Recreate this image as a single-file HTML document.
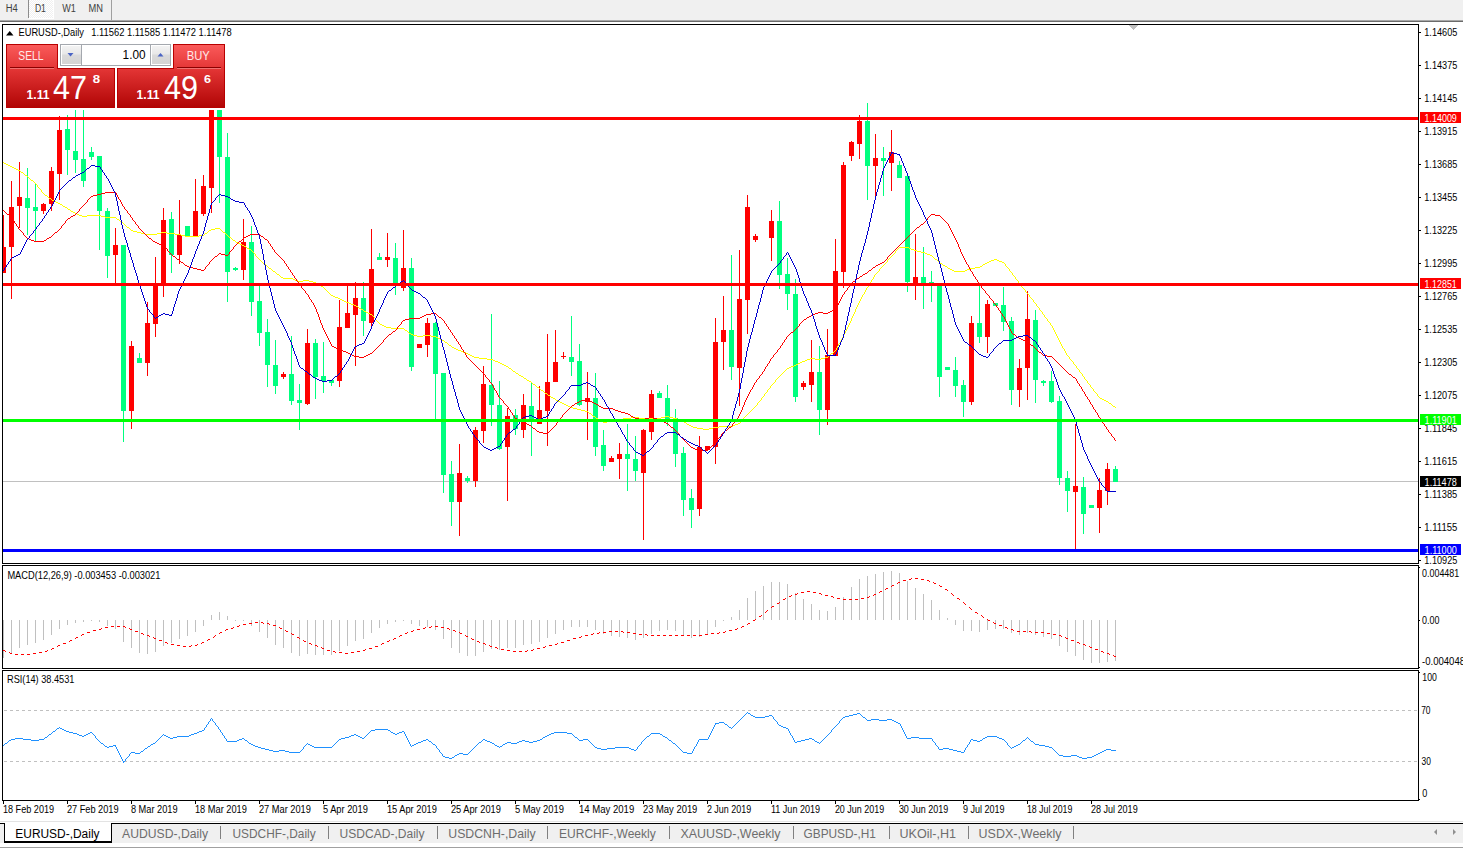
<!DOCTYPE html><html><head><meta charset="utf-8"><style>html,body{margin:0;padding:0;background:#fff;width:1463px;height:849px;overflow:hidden}svg{display:block}text{font-family:"Liberation Sans",sans-serif}</style></head><body><svg width="1463" height="849" viewBox="0 0 1463 849" font-family="Liberation Sans, sans-serif">
<defs>
<linearGradient id="rg" x1="0" y1="44" x2="0" y2="108" gradientUnits="userSpaceOnUse"><stop offset="0" stop-color="#fb5c5c"/><stop offset="0.38" stop-color="#e43636"/><stop offset="1" stop-color="#b00404"/></linearGradient>
<linearGradient id="bg" x1="0" y1="45" x2="0" y2="65" gradientUnits="userSpaceOnUse"><stop offset="0" stop-color="#f4f4f4"/><stop offset="0.45" stop-color="#e8e8e8"/><stop offset="0.5" stop-color="#dadada"/><stop offset="1" stop-color="#d4d4d4"/></linearGradient>
<clipPath id="cm"><rect x="3" y="25" width="1415" height="538"/></clipPath>
<clipPath id="cmacd"><rect x="3" y="566" width="1415" height="101"/></clipPath>
<clipPath id="crsi"><rect x="3" y="671" width="1415" height="129"/></clipPath>
<pattern id="chk" x="0" y="0" width="2" height="2" patternUnits="userSpaceOnUse"><rect width="2" height="2" fill="#f0f0f0"/><rect width="1" height="1" fill="#fff"/><rect x="1" y="1" width="1" height="1" fill="#fff"/></pattern>
</defs>
<rect x="0" y="0" width="1463" height="849" fill="#fff"/>
<g shape-rendering="crispEdges">
<rect x="0" y="0" width="1463" height="20" fill="#f0f0f0"/>
<rect x="29" y="0" width="25" height="19" fill="#fff"/>
<rect x="29" y="0" width="24" height="18" fill="url(#chk)"/>
<rect x="28" y="0" width="1" height="18" fill="#8c8c8c"/>
<rect x="111" y="0" width="1" height="20" fill="#a0a0a0"/>
<rect x="0" y="20" width="1463" height="1" fill="#a8a8a8"/>
<rect x="0" y="21" width="1463" height="1" fill="#6a6a6a"/>
</g>
<text x="5.70" y="12" font-size="10" fill="#404040" textLength="12.03" lengthAdjust="spacingAndGlyphs">H4</text>
<text x="34.90" y="12" font-size="10" fill="#404040" textLength="11.03" lengthAdjust="spacingAndGlyphs">D1</text>
<text x="62.30" y="12" font-size="10" fill="#404040" textLength="13.60" lengthAdjust="spacingAndGlyphs">W1</text>
<text x="88.60" y="12" font-size="10" fill="#404040" textLength="14.45" lengthAdjust="spacingAndGlyphs">MN</text>
<g shape-rendering="crispEdges" fill="none" stroke="#000" stroke-width="1">
<rect x="2.5" y="24.5" width="1416" height="539"/>
<rect x="2.5" y="565.5" width="1416" height="103"/>
<rect x="2.5" y="670.5" width="1416" height="130"/>
</g>
<g clip-path="url(#cm)" shape-rendering="crispEdges">
<rect x="3" y="481" width="1415" height="1" fill="#c0c0c0"/>
<rect x="3" y="215" width="1" height="58" fill="#ff0000"/>
<rect x="1" y="247" width="5" height="26" fill="#ff0000"/>
<rect x="11" y="181" width="1" height="118" fill="#ff0000"/>
<rect x="9" y="207" width="5" height="40" fill="#ff0000"/>
<rect x="19" y="162" width="1" height="66" fill="#ff0000"/>
<rect x="17" y="197" width="5" height="9" fill="#ff0000"/>
<rect x="27" y="168" width="1" height="67" fill="#00ff7f"/>
<rect x="25" y="198" width="5" height="10" fill="#00ff7f"/>
<rect x="35" y="184" width="1" height="57" fill="#00ff7f"/>
<rect x="33" y="207" width="5" height="4" fill="#00ff7f"/>
<rect x="43" y="203" width="1" height="11" fill="#ff0000"/>
<rect x="41" y="204" width="5" height="7" fill="#ff0000"/>
<rect x="51" y="167" width="1" height="44" fill="#ff0000"/>
<rect x="49" y="171" width="5" height="33" fill="#ff0000"/>
<rect x="59" y="116" width="1" height="84" fill="#ff0000"/>
<rect x="57" y="130" width="5" height="44" fill="#ff0000"/>
<rect x="67" y="115" width="1" height="60" fill="#00ff7f"/>
<rect x="65" y="129" width="5" height="21" fill="#00ff7f"/>
<rect x="75" y="100" width="1" height="73" fill="#00ff7f"/>
<rect x="73" y="151" width="5" height="9" fill="#00ff7f"/>
<rect x="83" y="100" width="1" height="87" fill="#00ff7f"/>
<rect x="81" y="159" width="5" height="22" fill="#00ff7f"/>
<rect x="91" y="147" width="1" height="13" fill="#00ff7f"/>
<rect x="89" y="152" width="5" height="5" fill="#00ff7f"/>
<rect x="99" y="156" width="1" height="94" fill="#00ff7f"/>
<rect x="97" y="156" width="5" height="55" fill="#00ff7f"/>
<rect x="107" y="208" width="1" height="70" fill="#00ff7f"/>
<rect x="105" y="211" width="5" height="45" fill="#00ff7f"/>
<rect x="115" y="228" width="1" height="56" fill="#ff0000"/>
<rect x="113" y="245" width="5" height="10" fill="#ff0000"/>
<rect x="123" y="245" width="1" height="197" fill="#00ff7f"/>
<rect x="121" y="245" width="5" height="166" fill="#00ff7f"/>
<rect x="131" y="341" width="1" height="88" fill="#ff0000"/>
<rect x="129" y="346" width="5" height="65" fill="#ff0000"/>
<rect x="139" y="353" width="1" height="10" fill="#00ff7f"/>
<rect x="137" y="358" width="5" height="5" fill="#00ff7f"/>
<rect x="147" y="302" width="1" height="74" fill="#ff0000"/>
<rect x="145" y="323" width="5" height="40" fill="#ff0000"/>
<rect x="155" y="257" width="1" height="80" fill="#ff0000"/>
<rect x="153" y="285" width="5" height="39" fill="#ff0000"/>
<rect x="163" y="208" width="1" height="89" fill="#ff0000"/>
<rect x="161" y="220" width="5" height="64" fill="#ff0000"/>
<rect x="171" y="212" width="1" height="61" fill="#00ff7f"/>
<rect x="169" y="219" width="5" height="36" fill="#00ff7f"/>
<rect x="179" y="200" width="1" height="64" fill="#ff0000"/>
<rect x="177" y="235" width="5" height="20" fill="#ff0000"/>
<rect x="187" y="226" width="1" height="11" fill="#00ff7f"/>
<rect x="185" y="226" width="5" height="11" fill="#00ff7f"/>
<rect x="195" y="179" width="1" height="57" fill="#ff0000"/>
<rect x="193" y="211" width="5" height="25" fill="#ff0000"/>
<rect x="203" y="175" width="1" height="41" fill="#ff0000"/>
<rect x="201" y="186" width="5" height="28" fill="#ff0000"/>
<rect x="211" y="70" width="1" height="143" fill="#ff0000"/>
<rect x="209" y="75" width="5" height="113" fill="#ff0000"/>
<rect x="219" y="70" width="1" height="133" fill="#00ff7f"/>
<rect x="217" y="75" width="5" height="82" fill="#00ff7f"/>
<rect x="227" y="133" width="1" height="169" fill="#00ff7f"/>
<rect x="225" y="157" width="5" height="115" fill="#00ff7f"/>
<rect x="235" y="267" width="1" height="4" fill="#00ff7f"/>
<rect x="233" y="268" width="5" height="2" fill="#00ff7f"/>
<rect x="243" y="219" width="1" height="61" fill="#ff0000"/>
<rect x="241" y="242" width="5" height="28" fill="#ff0000"/>
<rect x="251" y="226" width="1" height="90" fill="#00ff7f"/>
<rect x="249" y="242" width="5" height="60" fill="#00ff7f"/>
<rect x="259" y="286" width="1" height="60" fill="#00ff7f"/>
<rect x="257" y="301" width="5" height="32" fill="#00ff7f"/>
<rect x="267" y="319" width="1" height="68" fill="#00ff7f"/>
<rect x="265" y="332" width="5" height="33" fill="#00ff7f"/>
<rect x="275" y="340" width="1" height="54" fill="#00ff7f"/>
<rect x="273" y="365" width="5" height="21" fill="#00ff7f"/>
<rect x="283" y="372" width="1" height="7" fill="#ff0000"/>
<rect x="281" y="374" width="5" height="3" fill="#ff0000"/>
<rect x="291" y="336" width="1" height="69" fill="#00ff7f"/>
<rect x="289" y="374" width="5" height="27" fill="#00ff7f"/>
<rect x="299" y="384" width="1" height="46" fill="#00ff7f"/>
<rect x="297" y="400" width="5" height="3" fill="#00ff7f"/>
<rect x="307" y="329" width="1" height="76" fill="#ff0000"/>
<rect x="305" y="343" width="5" height="61" fill="#ff0000"/>
<rect x="315" y="339" width="1" height="60" fill="#00ff7f"/>
<rect x="313" y="343" width="5" height="34" fill="#00ff7f"/>
<rect x="323" y="342" width="1" height="51" fill="#00ff7f"/>
<rect x="321" y="376" width="5" height="5" fill="#00ff7f"/>
<rect x="331" y="380" width="1" height="6" fill="#00ff7f"/>
<rect x="329" y="380" width="5" height="3" fill="#00ff7f"/>
<rect x="339" y="300" width="1" height="87" fill="#ff0000"/>
<rect x="337" y="327" width="5" height="54" fill="#ff0000"/>
<rect x="347" y="286" width="1" height="42" fill="#ff0000"/>
<rect x="345" y="313" width="5" height="15" fill="#ff0000"/>
<rect x="355" y="282" width="1" height="84" fill="#ff0000"/>
<rect x="353" y="298" width="5" height="17" fill="#ff0000"/>
<rect x="363" y="282" width="1" height="54" fill="#00ff7f"/>
<rect x="361" y="298" width="5" height="23" fill="#00ff7f"/>
<rect x="371" y="229" width="1" height="97" fill="#ff0000"/>
<rect x="369" y="269" width="5" height="54" fill="#ff0000"/>
<rect x="379" y="253" width="1" height="7" fill="#00ff7f"/>
<rect x="377" y="257" width="5" height="3" fill="#00ff7f"/>
<rect x="387" y="233" width="1" height="34" fill="#ff0000"/>
<rect x="385" y="257" width="5" height="3" fill="#ff0000"/>
<rect x="395" y="243" width="1" height="52" fill="#00ff7f"/>
<rect x="393" y="258" width="5" height="26" fill="#00ff7f"/>
<rect x="403" y="230" width="1" height="61" fill="#ff0000"/>
<rect x="401" y="268" width="5" height="20" fill="#ff0000"/>
<rect x="411" y="258" width="1" height="113" fill="#00ff7f"/>
<rect x="409" y="268" width="5" height="99" fill="#00ff7f"/>
<rect x="419" y="344" width="1" height="4" fill="#ff0000"/>
<rect x="417" y="344" width="5" height="4" fill="#ff0000"/>
<rect x="427" y="318" width="1" height="39" fill="#ff0000"/>
<rect x="425" y="323" width="5" height="22" fill="#ff0000"/>
<rect x="435" y="322" width="1" height="97" fill="#00ff7f"/>
<rect x="433" y="323" width="5" height="51" fill="#00ff7f"/>
<rect x="443" y="373" width="1" height="120" fill="#00ff7f"/>
<rect x="441" y="373" width="5" height="102" fill="#00ff7f"/>
<rect x="451" y="461" width="1" height="65" fill="#00ff7f"/>
<rect x="449" y="474" width="5" height="28" fill="#00ff7f"/>
<rect x="459" y="444" width="1" height="92" fill="#ff0000"/>
<rect x="457" y="473" width="5" height="29" fill="#ff0000"/>
<rect x="467" y="476" width="1" height="7" fill="#00ff7f"/>
<rect x="465" y="478" width="5" height="3" fill="#00ff7f"/>
<rect x="475" y="427" width="1" height="60" fill="#ff0000"/>
<rect x="473" y="430" width="5" height="51" fill="#ff0000"/>
<rect x="483" y="366" width="1" height="77" fill="#ff0000"/>
<rect x="481" y="384" width="5" height="47" fill="#ff0000"/>
<rect x="491" y="314" width="1" height="112" fill="#00ff7f"/>
<rect x="489" y="385" width="5" height="20" fill="#00ff7f"/>
<rect x="499" y="381" width="1" height="69" fill="#00ff7f"/>
<rect x="497" y="405" width="5" height="44" fill="#00ff7f"/>
<rect x="507" y="408" width="1" height="93" fill="#ff0000"/>
<rect x="505" y="416" width="5" height="31" fill="#ff0000"/>
<rect x="515" y="409" width="1" height="26" fill="#00ff7f"/>
<rect x="513" y="415" width="5" height="14" fill="#00ff7f"/>
<rect x="523" y="394" width="1" height="44" fill="#ff0000"/>
<rect x="521" y="405" width="5" height="25" fill="#ff0000"/>
<rect x="531" y="383" width="1" height="73" fill="#00ff7f"/>
<rect x="529" y="406" width="5" height="14" fill="#00ff7f"/>
<rect x="539" y="386" width="1" height="38" fill="#ff0000"/>
<rect x="537" y="410" width="5" height="14" fill="#ff0000"/>
<rect x="547" y="334" width="1" height="112" fill="#ff0000"/>
<rect x="545" y="382" width="5" height="29" fill="#ff0000"/>
<rect x="555" y="330" width="1" height="52" fill="#ff0000"/>
<rect x="553" y="362" width="5" height="20" fill="#ff0000"/>
<rect x="563" y="352" width="1" height="7" fill="#ff0000"/>
<rect x="561" y="356" width="5" height="1" fill="#ff0000"/>
<rect x="571" y="316" width="1" height="60" fill="#00ff7f"/>
<rect x="569" y="357" width="5" height="5" fill="#00ff7f"/>
<rect x="579" y="344" width="1" height="62" fill="#00ff7f"/>
<rect x="577" y="361" width="5" height="44" fill="#00ff7f"/>
<rect x="587" y="372" width="1" height="68" fill="#ff0000"/>
<rect x="585" y="398" width="5" height="4" fill="#ff0000"/>
<rect x="595" y="373" width="1" height="83" fill="#00ff7f"/>
<rect x="593" y="398" width="5" height="49" fill="#00ff7f"/>
<rect x="603" y="430" width="1" height="41" fill="#00ff7f"/>
<rect x="601" y="445" width="5" height="21" fill="#00ff7f"/>
<rect x="611" y="456" width="1" height="6" fill="#ff0000"/>
<rect x="609" y="458" width="5" height="4" fill="#ff0000"/>
<rect x="619" y="443" width="1" height="36" fill="#ff0000"/>
<rect x="617" y="454" width="5" height="5" fill="#ff0000"/>
<rect x="627" y="424" width="1" height="67" fill="#00ff7f"/>
<rect x="625" y="454" width="5" height="5" fill="#00ff7f"/>
<rect x="635" y="436" width="1" height="45" fill="#00ff7f"/>
<rect x="633" y="459" width="5" height="12" fill="#00ff7f"/>
<rect x="643" y="429" width="1" height="111" fill="#ff0000"/>
<rect x="641" y="430" width="5" height="43" fill="#ff0000"/>
<rect x="651" y="390" width="1" height="50" fill="#ff0000"/>
<rect x="649" y="394" width="5" height="38" fill="#ff0000"/>
<rect x="659" y="391" width="1" height="7" fill="#00ff7f"/>
<rect x="657" y="393" width="5" height="5" fill="#00ff7f"/>
<rect x="667" y="385" width="1" height="41" fill="#00ff7f"/>
<rect x="665" y="398" width="5" height="21" fill="#00ff7f"/>
<rect x="675" y="409" width="1" height="58" fill="#00ff7f"/>
<rect x="673" y="418" width="5" height="36" fill="#00ff7f"/>
<rect x="683" y="447" width="1" height="69" fill="#00ff7f"/>
<rect x="681" y="453" width="5" height="47" fill="#00ff7f"/>
<rect x="691" y="489" width="1" height="39" fill="#00ff7f"/>
<rect x="689" y="498" width="5" height="12" fill="#00ff7f"/>
<rect x="699" y="436" width="1" height="80" fill="#ff0000"/>
<rect x="697" y="447" width="5" height="62" fill="#ff0000"/>
<rect x="707" y="446" width="1" height="4" fill="#ff0000"/>
<rect x="705" y="446" width="5" height="4" fill="#ff0000"/>
<rect x="715" y="318" width="1" height="146" fill="#ff0000"/>
<rect x="713" y="342" width="5" height="105" fill="#ff0000"/>
<rect x="723" y="296" width="1" height="74" fill="#ff0000"/>
<rect x="721" y="330" width="5" height="12" fill="#ff0000"/>
<rect x="731" y="255" width="1" height="125" fill="#00ff7f"/>
<rect x="729" y="330" width="5" height="37" fill="#00ff7f"/>
<rect x="739" y="250" width="1" height="156" fill="#ff0000"/>
<rect x="737" y="299" width="5" height="69" fill="#ff0000"/>
<rect x="747" y="195" width="1" height="139" fill="#ff0000"/>
<rect x="745" y="207" width="5" height="93" fill="#ff0000"/>
<rect x="755" y="234" width="1" height="8" fill="#ff0000"/>
<rect x="753" y="236" width="5" height="4" fill="#ff0000"/>
<rect x="771" y="210" width="1" height="51" fill="#ff0000"/>
<rect x="769" y="221" width="5" height="17" fill="#ff0000"/>
<rect x="779" y="201" width="1" height="88" fill="#00ff7f"/>
<rect x="777" y="221" width="5" height="54" fill="#00ff7f"/>
<rect x="787" y="258" width="1" height="52" fill="#00ff7f"/>
<rect x="785" y="274" width="5" height="20" fill="#00ff7f"/>
<rect x="795" y="279" width="1" height="123" fill="#00ff7f"/>
<rect x="793" y="294" width="5" height="103" fill="#00ff7f"/>
<rect x="803" y="381" width="1" height="9" fill="#ff0000"/>
<rect x="801" y="383" width="5" height="4" fill="#ff0000"/>
<rect x="811" y="340" width="1" height="62" fill="#ff0000"/>
<rect x="809" y="372" width="5" height="13" fill="#ff0000"/>
<rect x="819" y="346" width="1" height="89" fill="#00ff7f"/>
<rect x="817" y="372" width="5" height="38" fill="#00ff7f"/>
<rect x="827" y="329" width="1" height="96" fill="#ff0000"/>
<rect x="825" y="355" width="5" height="55" fill="#ff0000"/>
<rect x="835" y="239" width="1" height="117" fill="#ff0000"/>
<rect x="833" y="271" width="5" height="85" fill="#ff0000"/>
<rect x="843" y="162" width="1" height="126" fill="#ff0000"/>
<rect x="841" y="165" width="5" height="107" fill="#ff0000"/>
<rect x="851" y="141" width="1" height="20" fill="#ff0000"/>
<rect x="849" y="142" width="5" height="14" fill="#ff0000"/>
<rect x="859" y="115" width="1" height="44" fill="#ff0000"/>
<rect x="857" y="121" width="5" height="23" fill="#ff0000"/>
<rect x="867" y="103" width="1" height="97" fill="#00ff7f"/>
<rect x="865" y="121" width="5" height="45" fill="#00ff7f"/>
<rect x="875" y="134" width="1" height="62" fill="#ff0000"/>
<rect x="873" y="158" width="5" height="8" fill="#ff0000"/>
<rect x="883" y="147" width="1" height="49" fill="#00ff7f"/>
<rect x="881" y="158" width="5" height="3" fill="#00ff7f"/>
<rect x="891" y="130" width="1" height="61" fill="#ff0000"/>
<rect x="889" y="152" width="5" height="11" fill="#ff0000"/>
<rect x="899" y="161" width="1" height="17" fill="#00ff7f"/>
<rect x="897" y="165" width="5" height="13" fill="#00ff7f"/>
<rect x="907" y="175" width="1" height="117" fill="#00ff7f"/>
<rect x="905" y="176" width="5" height="106" fill="#00ff7f"/>
<rect x="915" y="234" width="1" height="66" fill="#ff0000"/>
<rect x="913" y="277" width="5" height="7" fill="#ff0000"/>
<rect x="923" y="247" width="1" height="62" fill="#00ff7f"/>
<rect x="921" y="277" width="5" height="7" fill="#00ff7f"/>
<rect x="931" y="271" width="1" height="31" fill="#00ff7f"/>
<rect x="929" y="282" width="5" height="2" fill="#00ff7f"/>
<rect x="939" y="284" width="1" height="113" fill="#00ff7f"/>
<rect x="937" y="284" width="5" height="93" fill="#00ff7f"/>
<rect x="947" y="367" width="1" height="3" fill="#00ff7f"/>
<rect x="945" y="367" width="5" height="3" fill="#00ff7f"/>
<rect x="955" y="357" width="1" height="40" fill="#00ff7f"/>
<rect x="953" y="370" width="5" height="16" fill="#00ff7f"/>
<rect x="963" y="380" width="1" height="37" fill="#00ff7f"/>
<rect x="961" y="385" width="5" height="17" fill="#00ff7f"/>
<rect x="971" y="316" width="1" height="89" fill="#ff0000"/>
<rect x="969" y="323" width="5" height="79" fill="#ff0000"/>
<rect x="979" y="285" width="1" height="58" fill="#00ff7f"/>
<rect x="977" y="323" width="5" height="14" fill="#00ff7f"/>
<rect x="987" y="300" width="1" height="53" fill="#ff0000"/>
<rect x="985" y="304" width="5" height="33" fill="#ff0000"/>
<rect x="995" y="303" width="1" height="3" fill="#00ff7f"/>
<rect x="993" y="303" width="5" height="3" fill="#00ff7f"/>
<rect x="1003" y="287" width="1" height="44" fill="#00ff7f"/>
<rect x="1001" y="305" width="5" height="17" fill="#00ff7f"/>
<rect x="1011" y="317" width="1" height="88" fill="#00ff7f"/>
<rect x="1009" y="321" width="5" height="69" fill="#00ff7f"/>
<rect x="1019" y="359" width="1" height="48" fill="#ff0000"/>
<rect x="1017" y="368" width="5" height="22" fill="#ff0000"/>
<rect x="1027" y="291" width="1" height="109" fill="#ff0000"/>
<rect x="1025" y="319" width="5" height="49" fill="#ff0000"/>
<rect x="1035" y="310" width="1" height="93" fill="#00ff7f"/>
<rect x="1033" y="320" width="5" height="60" fill="#00ff7f"/>
<rect x="1043" y="380" width="1" height="6" fill="#00ff7f"/>
<rect x="1041" y="381" width="5" height="2" fill="#00ff7f"/>
<rect x="1051" y="371" width="1" height="32" fill="#00ff7f"/>
<rect x="1049" y="381" width="5" height="21" fill="#00ff7f"/>
<rect x="1059" y="396" width="1" height="89" fill="#00ff7f"/>
<rect x="1057" y="401" width="5" height="77" fill="#00ff7f"/>
<rect x="1067" y="471" width="1" height="41" fill="#00ff7f"/>
<rect x="1065" y="478" width="5" height="13" fill="#00ff7f"/>
<rect x="1075" y="424" width="1" height="125" fill="#ff0000"/>
<rect x="1073" y="486" width="5" height="6" fill="#ff0000"/>
<rect x="1083" y="477" width="1" height="57" fill="#00ff7f"/>
<rect x="1081" y="487" width="5" height="27" fill="#00ff7f"/>
<rect x="1091" y="505" width="1" height="3" fill="#00ff7f"/>
<rect x="1089" y="505" width="5" height="3" fill="#00ff7f"/>
<rect x="1099" y="478" width="1" height="55" fill="#ff0000"/>
<rect x="1097" y="490" width="5" height="18" fill="#ff0000"/>
<rect x="1107" y="463" width="1" height="42" fill="#ff0000"/>
<rect x="1105" y="469" width="5" height="22" fill="#ff0000"/>
<rect x="1115" y="466" width="1" height="16" fill="#00ff7f"/>
<rect x="1113" y="469" width="5" height="13" fill="#00ff7f"/>
</g>
<path d="M3,162h1v1h-1zM4,163h2v1h-2zM6,164h2v1h-2zM8,165h2v1h-2zM10,166h2v1h-2zM12,167h2v1h-2zM14,168h2v1h-2zM16,169h2v1h-2zM18,170h2v1h-2zM20,171h1v1h-1zM21,172h2v1h-2zM23,173h1v1h-1zM24,174h1v1h-1zM25,175h2v1h-2zM27,176h1v1h-1zM28,177h1v1h-1zM29,178h1v1h-1zM30,179h1v1h-1zM31,180h2v1h-2zM33,181h1v1h-1zM34,182h1v1h-1zM35,183h1v1h-1zM36,184h1v1h-1zM37,185h1v1h-1zM37,186h1v1h-1zM38,187h1v1h-1zM39,188h1v1h-1zM40,189h1v1h-1zM41,190h1v1h-1zM41,191h1v1h-1zM42,192h1v1h-1zM43,193h1v1h-1zM44,194h1v1h-1zM45,195h2v1h-2zM47,196h1v1h-1zM48,197h1v1h-1zM49,198h2v1h-2zM51,199h1v1h-1zM52,200h2v1h-2zM54,201h2v1h-2zM56,202h2v1h-2zM58,203h2v1h-2zM60,204h2v1h-2zM62,205h1v1h-1zM63,206h2v1h-2zM65,207h2v1h-2zM67,208h1v1h-1zM68,209h2v1h-2zM70,210h1v1h-1zM71,211h2v1h-2zM73,212h2v1h-2zM75,213h2v1h-2zM77,214h2v1h-2zM79,215h3v1h-3zM87,215h14v1h-14zM82,216h5v1h-5zM101,216h4v1h-4zM105,217h11v1h-11zM116,218h1v1h-1zM117,219h2v1h-2zM119,220h1v1h-1zM120,221h1v1h-1zM121,222h2v1h-2zM123,223h1v1h-1zM124,224h1v1h-1zM125,225h1v1h-1zM126,226h1v1h-1zM127,227h2v1h-2zM129,228h1v1h-1zM215,228h5v1h-5zM130,229h1v1h-1zM211,229h4v1h-4zM220,229h1v1h-1zM131,230h2v1h-2zM209,230h2v1h-2zM221,230h1v1h-1zM133,231h4v1h-4zM208,231h1v1h-1zM222,231h1v1h-1zM137,232h4v1h-4zM161,232h6v1h-6zM207,232h1v1h-1zM223,232h2v1h-2zM141,233h4v1h-4zM157,233h4v1h-4zM167,233h8v1h-8zM205,233h2v1h-2zM225,233h1v1h-1zM145,234h12v1h-12zM175,234h6v1h-6zM204,234h1v1h-1zM226,234h1v1h-1zM181,235h4v1h-4zM199,235h5v1h-5zM227,235h1v1h-1zM185,236h14v1h-14zM228,236h1v1h-1zM229,237h2v1h-2zM231,238h1v1h-1zM232,239h1v1h-1zM233,240h2v1h-2zM235,241h1v1h-1zM236,242h2v1h-2zM238,243h2v1h-2zM240,244h2v1h-2zM242,245h2v1h-2zM244,246h2v1h-2zM246,247h1v1h-1zM899,247h10v1h-10zM247,248h2v1h-2zM898,248h1v1h-1zM909,248h2v1h-2zM249,249h2v1h-2zM897,249h1v1h-1zM911,249h3v1h-3zM251,250h1v1h-1zM896,250h1v1h-1zM914,250h3v1h-3zM252,251h1v1h-1zM895,251h1v1h-1zM917,251h4v1h-4zM253,252h1v1h-1zM895,252h1v1h-1zM921,252h4v1h-4zM254,253h1v1h-1zM894,253h1v1h-1zM925,253h2v1h-2zM255,254h1v1h-1zM893,254h1v1h-1zM927,254h3v1h-3zM255,255h1v1h-1zM892,255h1v1h-1zM930,255h2v1h-2zM256,256h1v1h-1zM891,256h1v1h-1zM932,256h1v1h-1zM257,257h1v1h-1zM890,257h1v1h-1zM933,257h1v1h-1zM258,258h1v1h-1zM889,258h1v1h-1zM934,258h1v1h-1zM259,259h1v1h-1zM888,259h1v1h-1zM935,259h2v1h-2zM994,259h3v1h-3zM260,260h1v1h-1zM887,260h1v1h-1zM937,260h1v1h-1zM991,260h3v1h-3zM997,260h2v1h-2zM261,261h1v1h-1zM887,261h1v1h-1zM938,261h1v1h-1zM989,261h2v1h-2zM999,261h3v1h-3zM262,262h1v1h-1zM886,262h1v1h-1zM939,262h1v1h-1zM987,262h2v1h-2zM1002,262h2v1h-2zM263,263h2v1h-2zM885,263h1v1h-1zM940,263h2v1h-2zM985,263h2v1h-2zM1004,263h1v1h-1zM265,264h1v1h-1zM884,264h1v1h-1zM942,264h1v1h-1zM983,264h2v1h-2zM1005,264h1v1h-1zM266,265h1v1h-1zM883,265h1v1h-1zM943,265h2v1h-2zM982,265h1v1h-1zM1005,265h1v1h-1zM267,266h1v1h-1zM882,266h1v1h-1zM945,266h2v1h-2zM980,266h2v1h-2zM1006,266h1v1h-1zM268,267h1v1h-1zM881,267h1v1h-1zM947,267h1v1h-1zM975,267h5v1h-5zM1007,267h1v1h-1zM269,268h2v1h-2zM880,268h1v1h-1zM948,268h2v1h-2zM970,268h5v1h-5zM1008,268h1v1h-1zM271,269h1v1h-1zM879,269h1v1h-1zM950,269h2v1h-2zM967,269h3v1h-3zM1009,269h1v1h-1zM272,270h1v1h-1zM879,270h1v1h-1zM952,270h2v1h-2zM965,270h2v1h-2zM1009,270h1v1h-1zM273,271h2v1h-2zM878,271h1v1h-1zM954,271h11v1h-11zM1010,271h1v1h-1zM275,272h1v1h-1zM877,272h1v1h-1zM1011,272h1v1h-1zM276,273h1v1h-1zM876,273h1v1h-1zM1012,273h1v1h-1zM277,274h2v1h-2zM875,274h1v1h-1zM1012,274h1v1h-1zM279,275h1v1h-1zM874,275h1v1h-1zM1013,275h1v1h-1zM280,276h1v1h-1zM874,276h1v1h-1zM1014,276h1v1h-1zM281,277h2v1h-2zM873,277h1v1h-1zM1015,277h1v1h-1zM283,278h10v1h-10zM873,278h1v1h-1zM1015,278h1v1h-1zM293,279h2v1h-2zM872,279h1v1h-1zM1016,279h1v1h-1zM295,280h3v1h-3zM303,280h6v1h-6zM871,280h1v1h-1zM1017,280h1v1h-1zM298,281h5v1h-5zM309,281h4v1h-4zM871,281h1v1h-1zM1018,281h1v1h-1zM313,282h3v1h-3zM870,282h1v1h-1zM1018,282h1v1h-1zM316,283h2v1h-2zM869,283h1v1h-1zM1019,283h1v1h-1zM318,284h1v1h-1zM869,284h1v1h-1zM1020,284h1v1h-1zM319,285h2v1h-2zM868,285h1v1h-1zM1021,285h1v1h-1zM321,286h2v1h-2zM868,286h1v1h-1zM1021,286h1v1h-1zM323,287h1v1h-1zM867,287h1v1h-1zM1022,287h1v1h-1zM324,288h1v1h-1zM866,288h1v1h-1zM1023,288h1v1h-1zM325,289h1v1h-1zM866,289h1v1h-1zM1024,289h1v1h-1zM326,290h1v1h-1zM865,290h1v1h-1zM1025,290h1v1h-1zM327,291h1v1h-1zM865,291h1v1h-1zM1025,291h1v1h-1zM328,292h1v1h-1zM864,292h1v1h-1zM1026,292h1v1h-1zM329,293h1v1h-1zM864,293h1v1h-1zM1027,293h1v1h-1zM330,294h1v1h-1zM863,294h1v1h-1zM1028,294h1v1h-1zM331,295h2v1h-2zM862,295h1v1h-1zM1029,295h1v1h-1zM333,296h2v1h-2zM862,296h1v1h-1zM1029,296h1v1h-1zM335,297h3v1h-3zM861,297h1v1h-1zM1030,297h1v1h-1zM338,298h2v1h-2zM861,298h1v1h-1zM1031,298h1v1h-1zM340,299h2v1h-2zM860,299h1v1h-1zM1032,299h1v1h-1zM342,300h2v1h-2zM860,300h1v1h-1zM1033,300h1v1h-1zM344,301h2v1h-2zM859,301h1v1h-1zM1033,301h1v1h-1zM346,302h3v1h-3zM859,302h1v1h-1zM1034,302h1v1h-1zM349,303h2v1h-2zM858,303h1v1h-1zM1035,303h1v1h-1zM351,304h3v1h-3zM858,304h1v1h-1zM1036,304h1v1h-1zM354,305h2v1h-2zM857,305h1v1h-1zM1036,305h1v1h-1zM356,306h2v1h-2zM857,306h1v1h-1zM1037,306h1v1h-1zM358,307h1v1h-1zM856,307h1v1h-1zM1038,307h1v1h-1zM359,308h2v1h-2zM856,308h1v1h-1zM1039,308h1v1h-1zM361,309h2v1h-2zM855,309h1v1h-1zM1039,309h1v1h-1zM363,310h1v1h-1zM855,310h1v1h-1zM1040,310h1v1h-1zM364,311h2v1h-2zM855,311h1v1h-1zM1041,311h1v1h-1zM366,312h2v1h-2zM854,312h1v1h-1zM1042,312h1v1h-1zM368,313h2v1h-2zM854,313h1v1h-1zM1042,313h1v1h-1zM370,314h2v1h-2zM853,314h1v1h-1zM1043,314h1v1h-1zM372,315h1v1h-1zM853,315h1v1h-1zM1044,315h1v1h-1zM373,316h1v1h-1zM852,316h1v1h-1zM1044,316h1v1h-1zM374,317h1v1h-1zM852,317h1v1h-1zM1045,317h1v1h-1zM375,318h1v1h-1zM851,318h1v1h-1zM1046,318h1v1h-1zM375,319h1v1h-1zM851,319h1v1h-1zM1047,319h1v1h-1zM376,320h1v1h-1zM851,320h1v1h-1zM1047,320h1v1h-1zM377,321h1v1h-1zM850,321h1v1h-1zM1048,321h1v1h-1zM378,322h1v1h-1zM850,322h1v1h-1zM1049,322h1v1h-1zM379,323h1v1h-1zM849,323h1v1h-1zM1050,323h1v1h-1zM380,324h2v1h-2zM849,324h1v1h-1zM1050,324h1v1h-1zM382,325h2v1h-2zM848,325h1v1h-1zM1051,325h1v1h-1zM384,326h2v1h-2zM848,326h1v1h-1zM1052,326h1v1h-1zM386,327h5v1h-5zM847,327h1v1h-1zM1052,327h1v1h-1zM391,328h13v1h-13zM847,328h1v1h-1zM1053,328h1v1h-1zM404,329h1v1h-1zM846,329h1v1h-1zM1053,329h1v1h-1zM405,330h2v1h-2zM846,330h1v1h-1zM1054,330h1v1h-1zM407,331h1v1h-1zM845,331h1v1h-1zM1054,331h1v1h-1zM408,332h1v1h-1zM845,332h1v1h-1zM1055,332h1v1h-1zM409,333h2v1h-2zM844,333h1v1h-1zM1055,333h1v1h-1zM411,334h2v1h-2zM844,334h1v1h-1zM1056,334h1v1h-1zM413,335h4v1h-4zM423,335h8v1h-8zM843,335h1v1h-1zM1056,335h1v1h-1zM417,336h6v1h-6zM431,336h5v1h-5zM843,336h1v1h-1zM1057,336h1v1h-1zM436,337h2v1h-2zM842,337h1v1h-1zM1057,337h1v1h-1zM438,338h2v1h-2zM842,338h1v1h-1zM1058,338h1v1h-1zM440,339h2v1h-2zM841,339h1v1h-1zM1058,339h1v1h-1zM442,340h2v1h-2zM841,340h1v1h-1zM1059,340h1v1h-1zM444,341h1v1h-1zM840,341h1v1h-1zM1059,341h1v1h-1zM445,342h2v1h-2zM840,342h1v1h-1zM1060,342h1v1h-1zM447,343h1v1h-1zM839,343h1v1h-1zM1060,343h1v1h-1zM448,344h1v1h-1zM838,344h1v1h-1zM1061,344h1v1h-1zM449,345h2v1h-2zM838,345h1v1h-1zM1061,345h1v1h-1zM451,346h1v1h-1zM837,346h1v1h-1zM1062,346h1v1h-1zM452,347h2v1h-2zM837,347h1v1h-1zM1062,347h1v1h-1zM454,348h2v1h-2zM836,348h1v1h-1zM1063,348h1v1h-1zM456,349h2v1h-2zM836,349h1v1h-1zM1064,349h1v1h-1zM458,350h3v1h-3zM835,350h1v1h-1zM1064,350h1v1h-1zM461,351h2v1h-2zM834,351h1v1h-1zM1065,351h1v1h-1zM463,352h3v1h-3zM833,352h1v1h-1zM1065,352h1v1h-1zM466,353h2v1h-2zM831,353h2v1h-2zM1066,353h1v1h-1zM468,354h2v1h-2zM830,354h1v1h-1zM1066,354h1v1h-1zM470,355h2v1h-2zM829,355h1v1h-1zM1067,355h1v1h-1zM472,356h2v1h-2zM828,356h1v1h-1zM1068,356h1v1h-1zM474,357h5v1h-5zM825,357h3v1h-3zM1069,357h1v1h-1zM479,358h8v1h-8zM810,358h5v1h-5zM821,358h4v1h-4zM1069,358h1v1h-1zM487,359h6v1h-6zM807,359h3v1h-3zM815,359h6v1h-6zM1070,359h1v1h-1zM493,360h2v1h-2zM805,360h2v1h-2zM1071,360h1v1h-1zM495,361h3v1h-3zM802,361h3v1h-3zM1072,361h1v1h-1zM498,362h2v1h-2zM800,362h2v1h-2zM1073,362h1v1h-1zM500,363h2v1h-2zM798,363h2v1h-2zM1073,363h1v1h-1zM502,364h2v1h-2zM796,364h2v1h-2zM1074,364h1v1h-1zM504,365h2v1h-2zM794,365h2v1h-2zM1075,365h1v1h-1zM506,366h2v1h-2zM791,366h3v1h-3zM1076,366h1v1h-1zM508,367h1v1h-1zM789,367h2v1h-2zM1076,367h1v1h-1zM509,368h2v1h-2zM787,368h2v1h-2zM1077,368h1v1h-1zM511,369h1v1h-1zM786,369h1v1h-1zM1078,369h1v1h-1zM512,370h1v1h-1zM785,370h1v1h-1zM1079,370h1v1h-1zM513,371h2v1h-2zM784,371h1v1h-1zM1079,371h1v1h-1zM515,372h1v1h-1zM783,372h1v1h-1zM1080,372h1v1h-1zM516,373h2v1h-2zM782,373h1v1h-1zM1081,373h1v1h-1zM518,374h1v1h-1zM781,374h1v1h-1zM1082,374h1v1h-1zM519,375h2v1h-2zM780,375h1v1h-1zM1082,375h1v1h-1zM521,376h2v1h-2zM779,376h1v1h-1zM1083,376h1v1h-1zM523,377h1v1h-1zM778,377h1v1h-1zM1084,377h1v1h-1zM524,378h2v1h-2zM777,378h1v1h-1zM1084,378h1v1h-1zM526,379h1v1h-1zM776,379h1v1h-1zM1085,379h1v1h-1zM527,380h2v1h-2zM775,380h1v1h-1zM1086,380h1v1h-1zM529,381h2v1h-2zM775,381h1v1h-1zM1087,381h1v1h-1zM531,382h1v1h-1zM774,382h1v1h-1zM1087,382h1v1h-1zM532,383h1v1h-1zM773,383h1v1h-1zM1088,383h1v1h-1zM533,384h2v1h-2zM772,384h1v1h-1zM1089,384h1v1h-1zM535,385h1v1h-1zM771,385h1v1h-1zM1090,385h1v1h-1zM536,386h1v1h-1zM770,386h1v1h-1zM1090,386h1v1h-1zM537,387h2v1h-2zM770,387h1v1h-1zM1091,387h1v1h-1zM539,388h1v1h-1zM769,388h1v1h-1zM1092,388h1v1h-1zM540,389h1v1h-1zM768,389h1v1h-1zM1093,389h1v1h-1zM541,390h2v1h-2zM767,390h1v1h-1zM1093,390h1v1h-1zM543,391h1v1h-1zM767,391h1v1h-1zM1094,391h1v1h-1zM544,392h1v1h-1zM766,392h1v1h-1zM1095,392h1v1h-1zM545,393h2v1h-2zM765,393h1v1h-1zM1096,393h1v1h-1zM547,394h1v1h-1zM764,394h1v1h-1zM1097,394h1v1h-1zM548,395h2v1h-2zM764,395h1v1h-1zM1097,395h1v1h-1zM550,396h1v1h-1zM763,396h1v1h-1zM1098,396h1v1h-1zM551,397h2v1h-2zM762,397h1v1h-1zM1099,397h1v1h-1zM553,398h2v1h-2zM761,398h1v1h-1zM1100,398h2v1h-2zM555,399h1v1h-1zM761,399h1v1h-1zM1102,399h2v1h-2zM556,400h2v1h-2zM760,400h1v1h-1zM1104,400h2v1h-2zM558,401h2v1h-2zM759,401h1v1h-1zM1106,401h2v1h-2zM560,402h2v1h-2zM758,402h1v1h-1zM1108,402h1v1h-1zM562,403h2v1h-2zM757,403h1v1h-1zM1109,403h2v1h-2zM564,404h2v1h-2zM757,404h1v1h-1zM1111,404h1v1h-1zM566,405h2v1h-2zM756,405h1v1h-1zM1112,405h1v1h-1zM568,406h2v1h-2zM755,406h1v1h-1zM1113,406h2v1h-2zM570,407h3v1h-3zM754,407h1v1h-1zM1115,407h1v1h-1zM573,408h4v1h-4zM753,408h1v1h-1zM577,409h4v1h-4zM752,409h1v1h-1zM581,410h4v1h-4zM751,410h1v1h-1zM585,411h3v1h-3zM750,411h1v1h-1zM588,412h1v1h-1zM749,412h1v1h-1zM589,413h2v1h-2zM748,413h1v1h-1zM591,414h1v1h-1zM747,414h1v1h-1zM592,415h1v1h-1zM746,415h1v1h-1zM593,416h2v1h-2zM665,416h4v1h-4zM745,416h1v1h-1zM595,417h1v1h-1zM631,417h8v1h-8zM661,417h4v1h-4zM669,417h4v1h-4zM744,417h1v1h-1zM596,418h2v1h-2zM623,418h8v1h-8zM639,418h22v1h-22zM673,418h4v1h-4zM743,418h1v1h-1zM598,419h1v1h-1zM617,419h6v1h-6zM677,419h2v1h-2zM743,419h1v1h-1zM599,420h2v1h-2zM613,420h4v1h-4zM679,420h3v1h-3zM742,420h1v1h-1zM601,421h2v1h-2zM607,421h6v1h-6zM682,421h2v1h-2zM741,421h1v1h-1zM603,422h4v1h-4zM684,422h2v1h-2zM740,422h1v1h-1zM686,423h1v1h-1zM738,423h2v1h-2zM687,424h2v1h-2zM735,424h3v1h-3zM689,425h2v1h-2zM733,425h2v1h-2zM691,426h2v1h-2zM719,426h14v1h-14zM693,427h4v1h-4zM713,427h6v1h-6zM697,428h6v1h-6zM709,428h4v1h-4zM703,429h6v1h-6z" fill="#ffff00" shape-rendering="crispEdges"/>
<path d="M105,192h11v1h-11zM101,193h4v1h-4zM116,193h1v1h-1zM97,194h4v1h-4zM116,194h1v1h-1zM93,195h4v1h-4zM117,195h1v1h-1zM91,196h2v1h-2zM117,196h1v1h-1zM90,197h1v1h-1zM118,197h1v1h-1zM89,198h1v1h-1zM118,198h1v1h-1zM88,199h1v1h-1zM119,199h1v1h-1zM87,200h1v1h-1zM120,200h1v1h-1zM87,201h1v1h-1zM120,201h1v1h-1zM86,202h1v1h-1zM121,202h1v1h-1zM85,203h1v1h-1zM121,203h1v1h-1zM84,204h1v1h-1zM122,204h1v1h-1zM83,205h1v1h-1zM122,205h1v1h-1zM82,206h1v1h-1zM123,206h1v1h-1zM81,207h1v1h-1zM124,207h1v1h-1zM80,208h1v1h-1zM124,208h1v1h-1zM79,209h1v1h-1zM125,209h1v1h-1zM3,210h1v1h-1zM79,210h1v1h-1zM126,210h1v1h-1zM4,211h1v1h-1zM78,211h1v1h-1zM127,211h1v1h-1zM5,212h1v1h-1zM77,212h1v1h-1zM127,212h1v1h-1zM6,213h1v1h-1zM76,213h1v1h-1zM128,213h1v1h-1zM7,214h2v1h-2zM75,214h1v1h-1zM129,214h1v1h-1zM931,214h4v1h-4zM9,215h1v1h-1zM73,215h2v1h-2zM130,215h1v1h-1zM930,215h1v1h-1zM935,215h5v1h-5zM10,216h1v1h-1zM71,216h2v1h-2zM130,216h1v1h-1zM929,216h1v1h-1zM940,216h1v1h-1zM11,217h1v1h-1zM70,217h1v1h-1zM131,217h1v1h-1zM928,217h1v1h-1zM941,217h1v1h-1zM12,218h1v1h-1zM68,218h2v1h-2zM132,218h1v1h-1zM927,218h1v1h-1zM942,218h1v1h-1zM12,219h1v1h-1zM67,219h1v1h-1zM132,219h1v1h-1zM927,219h1v1h-1zM943,219h1v1h-1zM13,220h1v1h-1zM66,220h1v1h-1zM133,220h1v1h-1zM926,220h1v1h-1zM944,220h1v1h-1zM14,221h1v1h-1zM65,221h1v1h-1zM134,221h1v1h-1zM925,221h1v1h-1zM945,221h1v1h-1zM14,222h1v1h-1zM65,222h1v1h-1zM135,222h1v1h-1zM924,222h1v1h-1zM946,222h1v1h-1zM15,223h1v1h-1zM64,223h1v1h-1zM135,223h1v1h-1zM923,223h1v1h-1zM947,223h1v1h-1zM16,224h1v1h-1zM63,224h1v1h-1zM136,224h1v1h-1zM921,224h2v1h-2zM948,224h1v1h-1zM16,225h1v1h-1zM62,225h1v1h-1zM137,225h1v1h-1zM920,225h1v1h-1zM948,225h1v1h-1zM17,226h1v1h-1zM61,226h1v1h-1zM138,226h1v1h-1zM919,226h1v1h-1zM949,226h1v1h-1zM18,227h1v1h-1zM61,227h1v1h-1zM138,227h1v1h-1zM917,227h2v1h-2zM949,227h1v1h-1zM18,228h1v1h-1zM60,228h1v1h-1zM139,228h1v1h-1zM916,228h1v1h-1zM950,228h1v1h-1zM19,229h1v1h-1zM59,229h1v1h-1zM140,229h1v1h-1zM915,229h1v1h-1zM950,229h1v1h-1zM20,230h1v1h-1zM58,230h1v1h-1zM141,230h1v1h-1zM914,230h1v1h-1zM951,230h1v1h-1zM21,231h1v1h-1zM57,231h1v1h-1zM142,231h1v1h-1zM913,231h1v1h-1zM951,231h1v1h-1zM22,232h1v1h-1zM55,232h2v1h-2zM143,232h1v1h-1zM912,232h1v1h-1zM952,232h1v1h-1zM23,233h1v1h-1zM54,233h1v1h-1zM144,233h1v1h-1zM911,233h1v1h-1zM952,233h1v1h-1zM23,234h1v1h-1zM53,234h1v1h-1zM145,234h1v1h-1zM250,234h10v1h-10zM910,234h1v1h-1zM953,234h1v1h-1zM24,235h1v1h-1zM52,235h1v1h-1zM146,235h1v1h-1zM248,235h2v1h-2zM260,235h1v1h-1zM909,235h1v1h-1zM953,235h1v1h-1zM25,236h1v1h-1zM51,236h1v1h-1zM147,236h1v1h-1zM246,236h2v1h-2zM261,236h2v1h-2zM908,236h1v1h-1zM954,236h1v1h-1zM26,237h1v1h-1zM49,237h2v1h-2zM148,237h1v1h-1zM244,237h2v1h-2zM263,237h1v1h-1zM907,237h1v1h-1zM954,237h1v1h-1zM27,238h2v1h-2zM47,238h2v1h-2zM149,238h2v1h-2zM243,238h1v1h-1zM264,238h1v1h-1zM906,238h1v1h-1zM955,238h1v1h-1zM29,239h2v1h-2zM46,239h1v1h-1zM151,239h1v1h-1zM242,239h1v1h-1zM265,239h2v1h-2zM905,239h1v1h-1zM955,239h1v1h-1zM31,240h3v1h-3zM44,240h2v1h-2zM152,240h1v1h-1zM241,240h1v1h-1zM267,240h1v1h-1zM904,240h1v1h-1zM956,240h1v1h-1zM34,241h10v1h-10zM153,241h2v1h-2zM239,241h2v1h-2zM268,241h1v1h-1zM903,241h1v1h-1zM956,241h1v1h-1zM155,242h2v1h-2zM238,242h1v1h-1zM268,242h1v1h-1zM902,242h1v1h-1zM957,242h1v1h-1zM157,243h2v1h-2zM237,243h1v1h-1zM269,243h1v1h-1zM901,243h1v1h-1zM957,243h1v1h-1zM159,244h3v1h-3zM236,244h1v1h-1zM270,244h1v1h-1zM900,244h1v1h-1zM958,244h1v1h-1zM162,245h2v1h-2zM235,245h1v1h-1zM270,245h1v1h-1zM899,245h1v1h-1zM958,245h1v1h-1zM164,246h1v1h-1zM234,246h1v1h-1zM271,246h1v1h-1zM898,246h1v1h-1zM958,246h1v1h-1zM165,247h1v1h-1zM233,247h1v1h-1zM272,247h1v1h-1zM897,247h1v1h-1zM959,247h1v1h-1zM166,248h1v1h-1zM233,248h1v1h-1zM272,248h1v1h-1zM896,248h1v1h-1zM959,248h1v1h-1zM167,249h1v1h-1zM232,249h1v1h-1zM273,249h1v1h-1zM895,249h1v1h-1zM960,249h1v1h-1zM167,250h1v1h-1zM231,250h1v1h-1zM274,250h1v1h-1zM894,250h1v1h-1zM960,250h1v1h-1zM168,251h1v1h-1zM230,251h1v1h-1zM274,251h1v1h-1zM893,251h1v1h-1zM960,251h1v1h-1zM169,252h1v1h-1zM229,252h1v1h-1zM275,252h1v1h-1zM892,252h1v1h-1zM961,252h1v1h-1zM170,253h1v1h-1zM219,253h2v1h-2zM229,253h1v1h-1zM276,253h1v1h-1zM891,253h1v1h-1zM961,253h1v1h-1zM171,254h1v1h-1zM218,254h1v1h-1zM221,254h4v1h-4zM228,254h1v1h-1zM277,254h1v1h-1zM890,254h1v1h-1zM962,254h1v1h-1zM172,255h1v1h-1zM217,255h1v1h-1zM225,255h3v1h-3zM278,255h1v1h-1zM889,255h1v1h-1zM962,255h1v1h-1zM173,256h2v1h-2zM215,256h2v1h-2zM279,256h1v1h-1zM888,256h1v1h-1zM963,256h1v1h-1zM175,257h1v1h-1zM214,257h1v1h-1zM280,257h1v1h-1zM887,257h1v1h-1zM963,257h1v1h-1zM176,258h1v1h-1zM213,258h1v1h-1zM281,258h1v1h-1zM887,258h1v1h-1zM964,258h1v1h-1zM177,259h2v1h-2zM212,259h1v1h-1zM282,259h1v1h-1zM886,259h1v1h-1zM964,259h1v1h-1zM179,260h1v1h-1zM211,260h1v1h-1zM283,260h1v1h-1zM885,260h1v1h-1zM965,260h1v1h-1zM180,261h1v1h-1zM210,261h1v1h-1zM284,261h1v1h-1zM884,261h1v1h-1zM965,261h1v1h-1zM181,262h2v1h-2zM209,262h1v1h-1zM284,262h1v1h-1zM882,262h2v1h-2zM966,262h1v1h-1zM183,263h1v1h-1zM209,263h1v1h-1zM285,263h1v1h-1zM880,263h2v1h-2zM966,263h1v1h-1zM184,264h1v1h-1zM208,264h1v1h-1zM286,264h1v1h-1zM878,264h2v1h-2zM967,264h1v1h-1zM185,265h2v1h-2zM207,265h1v1h-1zM286,265h1v1h-1zM876,265h2v1h-2zM968,265h1v1h-1zM187,266h2v1h-2zM206,266h1v1h-1zM287,266h1v1h-1zM875,266h1v1h-1zM968,266h1v1h-1zM189,267h4v1h-4zM205,267h1v1h-1zM288,267h1v1h-1zM873,267h2v1h-2zM969,267h1v1h-1zM193,268h4v1h-4zM205,268h1v1h-1zM288,268h1v1h-1zM872,268h1v1h-1zM969,268h1v1h-1zM197,269h4v1h-4zM204,269h1v1h-1zM289,269h1v1h-1zM871,269h1v1h-1zM970,269h1v1h-1zM201,270h3v1h-3zM290,270h1v1h-1zM869,270h2v1h-2zM970,270h1v1h-1zM290,271h1v1h-1zM868,271h1v1h-1zM971,271h1v1h-1zM291,272h1v1h-1zM867,272h1v1h-1zM972,272h1v1h-1zM292,273h1v1h-1zM865,273h2v1h-2zM972,273h1v1h-1zM292,274h1v1h-1zM863,274h2v1h-2zM973,274h1v1h-1zM293,275h1v1h-1zM862,275h1v1h-1zM973,275h1v1h-1zM294,276h1v1h-1zM860,276h2v1h-2zM974,276h1v1h-1zM294,277h1v1h-1zM859,277h1v1h-1zM975,277h1v1h-1zM295,278h1v1h-1zM857,278h2v1h-2zM975,278h1v1h-1zM296,279h1v1h-1zM856,279h1v1h-1zM976,279h1v1h-1zM296,280h1v1h-1zM855,280h1v1h-1zM977,280h1v1h-1zM297,281h1v1h-1zM853,281h2v1h-2zM977,281h1v1h-1zM298,282h1v1h-1zM852,282h1v1h-1zM978,282h1v1h-1zM298,283h1v1h-1zM851,283h1v1h-1zM978,283h1v1h-1zM299,284h1v1h-1zM850,284h1v1h-1zM979,284h1v1h-1zM300,285h1v1h-1zM850,285h1v1h-1zM980,285h1v1h-1zM301,286h1v1h-1zM849,286h1v1h-1zM981,286h1v1h-1zM301,287h1v1h-1zM848,287h1v1h-1zM981,287h1v1h-1zM302,288h1v1h-1zM847,288h1v1h-1zM982,288h1v1h-1zM303,289h1v1h-1zM847,289h1v1h-1zM983,289h1v1h-1zM304,290h1v1h-1zM846,290h1v1h-1zM984,290h1v1h-1zM305,291h1v1h-1zM845,291h1v1h-1zM985,291h1v1h-1zM305,292h1v1h-1zM844,292h1v1h-1zM985,292h1v1h-1zM306,293h1v1h-1zM844,293h1v1h-1zM986,293h1v1h-1zM307,294h1v1h-1zM843,294h1v1h-1zM987,294h1v1h-1zM308,295h1v1h-1zM842,295h1v1h-1zM988,295h1v1h-1zM308,296h1v1h-1zM842,296h1v1h-1zM989,296h1v1h-1zM309,297h1v1h-1zM841,297h1v1h-1zM989,297h1v1h-1zM309,298h1v1h-1zM841,298h1v1h-1zM990,298h1v1h-1zM310,299h1v1h-1zM840,299h1v1h-1zM991,299h1v1h-1zM311,300h1v1h-1zM840,300h1v1h-1zM992,300h1v1h-1zM311,301h1v1h-1zM839,301h1v1h-1zM993,301h1v1h-1zM312,302h1v1h-1zM839,302h1v1h-1zM993,302h1v1h-1zM313,303h1v1h-1zM838,303h1v1h-1zM994,303h1v1h-1zM313,304h1v1h-1zM838,304h1v1h-1zM995,304h1v1h-1zM314,305h1v1h-1zM837,305h1v1h-1zM996,305h1v1h-1zM314,306h1v1h-1zM837,306h1v1h-1zM996,306h1v1h-1zM315,307h1v1h-1zM836,307h1v1h-1zM997,307h1v1h-1zM315,308h1v1h-1zM836,308h1v1h-1zM998,308h1v1h-1zM316,309h1v1h-1zM834,309h2v1h-2zM998,309h1v1h-1zM316,310h1v1h-1zM832,310h2v1h-2zM999,310h1v1h-1zM316,311h1v1h-1zM830,311h2v1h-2zM1000,311h1v1h-1zM317,312h1v1h-1zM818,312h5v1h-5zM828,312h2v1h-2zM1000,312h1v1h-1zM317,313h1v1h-1zM431,313h5v1h-5zM815,313h3v1h-3zM823,313h5v1h-5zM1001,313h1v1h-1zM318,314h1v1h-1zM426,314h5v1h-5zM436,314h1v1h-1zM813,314h2v1h-2zM1002,314h1v1h-1zM318,315h1v1h-1zM424,315h2v1h-2zM437,315h1v1h-1zM811,315h2v1h-2zM1002,315h1v1h-1zM318,316h1v1h-1zM422,316h2v1h-2zM438,316h1v1h-1zM809,316h2v1h-2zM1003,316h1v1h-1zM319,317h1v1h-1zM420,317h2v1h-2zM439,317h2v1h-2zM807,317h2v1h-2zM1004,317h1v1h-1zM319,318h1v1h-1zM409,318h11v1h-11zM441,318h1v1h-1zM806,318h1v1h-1zM1004,318h1v1h-1zM319,319h1v1h-1zM405,319h4v1h-4zM442,319h1v1h-1zM804,319h2v1h-2zM1005,319h1v1h-1zM320,320h1v1h-1zM403,320h2v1h-2zM443,320h1v1h-1zM803,320h1v1h-1zM1005,320h1v1h-1zM320,321h1v1h-1zM402,321h1v1h-1zM444,321h1v1h-1zM802,321h1v1h-1zM1006,321h1v1h-1zM320,322h1v1h-1zM401,322h1v1h-1zM444,322h1v1h-1zM801,322h1v1h-1zM1006,322h1v1h-1zM321,323h1v1h-1zM401,323h1v1h-1zM445,323h1v1h-1zM800,323h1v1h-1zM1007,323h1v1h-1zM321,324h1v1h-1zM400,324h1v1h-1zM446,324h1v1h-1zM799,324h1v1h-1zM1007,324h1v1h-1zM322,325h1v1h-1zM399,325h1v1h-1zM446,325h1v1h-1zM799,325h1v1h-1zM1008,325h1v1h-1zM322,326h1v1h-1zM398,326h1v1h-1zM447,326h1v1h-1zM798,326h1v1h-1zM1008,326h1v1h-1zM322,327h1v1h-1zM397,327h1v1h-1zM448,327h1v1h-1zM797,327h1v1h-1zM1009,327h1v1h-1zM323,328h1v1h-1zM397,328h1v1h-1zM448,328h1v1h-1zM796,328h1v1h-1zM1009,328h1v1h-1zM323,329h1v1h-1zM396,329h1v1h-1zM449,329h1v1h-1zM795,329h1v1h-1zM1010,329h1v1h-1zM324,330h1v1h-1zM395,330h1v1h-1zM450,330h1v1h-1zM794,330h1v1h-1zM1010,330h1v1h-1zM324,331h1v1h-1zM393,331h2v1h-2zM450,331h1v1h-1zM793,331h1v1h-1zM1011,331h1v1h-1zM325,332h1v1h-1zM392,332h1v1h-1zM451,332h1v1h-1zM791,332h2v1h-2zM1011,332h1v1h-1zM325,333h1v1h-1zM391,333h1v1h-1zM452,333h1v1h-1zM790,333h1v1h-1zM1012,333h1v1h-1zM326,334h1v1h-1zM389,334h2v1h-2zM452,334h1v1h-1zM789,334h1v1h-1zM1013,334h2v1h-2zM326,335h1v1h-1zM388,335h1v1h-1zM453,335h1v1h-1zM788,335h1v1h-1zM1015,335h1v1h-1zM327,336h1v1h-1zM387,336h1v1h-1zM454,336h1v1h-1zM787,336h1v1h-1zM1016,336h1v1h-1zM327,337h1v1h-1zM386,337h1v1h-1zM454,337h1v1h-1zM786,337h1v1h-1zM1017,337h2v1h-2zM328,338h1v1h-1zM385,338h1v1h-1zM455,338h1v1h-1zM786,338h1v1h-1zM1019,338h2v1h-2zM328,339h1v1h-1zM384,339h1v1h-1zM456,339h1v1h-1zM785,339h1v1h-1zM1021,339h2v1h-2zM329,340h1v1h-1zM383,340h1v1h-1zM456,340h1v1h-1zM784,340h1v1h-1zM1023,340h3v1h-3zM329,341h1v1h-1zM383,341h1v1h-1zM457,341h1v1h-1zM784,341h1v1h-1zM1026,341h2v1h-2zM330,342h1v1h-1zM382,342h1v1h-1zM458,342h1v1h-1zM783,342h1v1h-1zM1028,342h1v1h-1zM330,343h1v1h-1zM381,343h1v1h-1zM458,343h1v1h-1zM782,343h1v1h-1zM1029,343h1v1h-1zM331,344h1v1h-1zM380,344h1v1h-1zM459,344h1v1h-1zM782,344h1v1h-1zM1030,344h1v1h-1zM331,345h1v1h-1zM379,345h1v1h-1zM460,345h1v1h-1zM781,345h1v1h-1zM1031,345h2v1h-2zM332,346h2v1h-2zM378,346h1v1h-1zM460,346h1v1h-1zM780,346h1v1h-1zM1033,346h1v1h-1zM334,347h2v1h-2zM377,347h1v1h-1zM461,347h1v1h-1zM780,347h1v1h-1zM1034,347h1v1h-1zM336,348h2v1h-2zM376,348h1v1h-1zM461,348h1v1h-1zM779,348h1v1h-1zM1035,348h1v1h-1zM338,349h3v1h-3zM375,349h1v1h-1zM462,349h1v1h-1zM778,349h1v1h-1zM1036,349h1v1h-1zM341,350h2v1h-2zM374,350h1v1h-1zM463,350h1v1h-1zM777,350h1v1h-1zM1037,350h1v1h-1zM343,351h3v1h-3zM373,351h1v1h-1zM463,351h1v1h-1zM777,351h1v1h-1zM1038,351h1v1h-1zM346,352h2v1h-2zM372,352h1v1h-1zM464,352h1v1h-1zM776,352h1v1h-1zM1039,352h2v1h-2zM348,353h2v1h-2zM370,353h2v1h-2zM465,353h1v1h-1zM775,353h1v1h-1zM1041,353h1v1h-1zM350,354h2v1h-2zM368,354h2v1h-2zM465,354h1v1h-1zM774,354h1v1h-1zM1042,354h1v1h-1zM352,355h2v1h-2zM366,355h2v1h-2zM466,355h1v1h-1zM773,355h1v1h-1zM1043,355h4v1h-4zM354,356h5v1h-5zM364,356h2v1h-2zM466,356h1v1h-1zM773,356h1v1h-1zM1047,356h5v1h-5zM359,357h5v1h-5zM467,357h1v1h-1zM772,357h1v1h-1zM1052,357h1v1h-1zM468,358h1v1h-1zM771,358h1v1h-1zM1053,358h1v1h-1zM469,359h1v1h-1zM770,359h1v1h-1zM1054,359h1v1h-1zM470,360h1v1h-1zM770,360h1v1h-1zM1055,360h1v1h-1zM471,361h1v1h-1zM769,361h1v1h-1zM1056,361h1v1h-1zM472,362h1v1h-1zM769,362h1v1h-1zM1057,362h1v1h-1zM473,363h1v1h-1zM768,363h1v1h-1zM1058,363h1v1h-1zM474,364h1v1h-1zM767,364h1v1h-1zM1059,364h1v1h-1zM475,365h1v1h-1zM767,365h1v1h-1zM1060,365h1v1h-1zM476,366h1v1h-1zM766,366h1v1h-1zM1061,366h1v1h-1zM477,367h1v1h-1zM765,367h1v1h-1zM1062,367h1v1h-1zM478,368h1v1h-1zM765,368h1v1h-1zM1063,368h1v1h-1zM479,369h1v1h-1zM764,369h1v1h-1zM1064,369h1v1h-1zM480,370h1v1h-1zM764,370h1v1h-1zM1065,370h1v1h-1zM481,371h1v1h-1zM763,371h1v1h-1zM1066,371h1v1h-1zM482,372h1v1h-1zM762,372h1v1h-1zM1067,372h1v1h-1zM483,373h1v1h-1zM762,373h1v1h-1zM1068,373h1v1h-1zM484,374h1v1h-1zM761,374h1v1h-1zM1069,374h2v1h-2zM485,375h1v1h-1zM760,375h1v1h-1zM1071,375h1v1h-1zM485,376h1v1h-1zM759,376h1v1h-1zM1072,376h1v1h-1zM486,377h1v1h-1zM759,377h1v1h-1zM1073,377h2v1h-2zM487,378h1v1h-1zM758,378h1v1h-1zM1075,378h1v1h-1zM488,379h1v1h-1zM757,379h1v1h-1zM1076,379h1v1h-1zM489,380h1v1h-1zM756,380h1v1h-1zM1076,380h1v1h-1zM489,381h1v1h-1zM756,381h1v1h-1zM1077,381h1v1h-1zM490,382h1v1h-1zM755,382h1v1h-1zM1077,382h1v1h-1zM491,383h1v1h-1zM754,383h1v1h-1zM1078,383h1v1h-1zM492,384h1v1h-1zM754,384h1v1h-1zM1079,384h1v1h-1zM492,385h1v1h-1zM753,385h1v1h-1zM1079,385h1v1h-1zM493,386h1v1h-1zM753,386h1v1h-1zM1080,386h1v1h-1zM493,387h1v1h-1zM752,387h1v1h-1zM1081,387h1v1h-1zM494,388h1v1h-1zM752,388h1v1h-1zM1081,388h1v1h-1zM494,389h1v1h-1zM751,389h1v1h-1zM1082,389h1v1h-1zM495,390h1v1h-1zM750,390h1v1h-1zM1082,390h1v1h-1zM496,391h1v1h-1zM750,391h1v1h-1zM1083,391h1v1h-1zM496,392h1v1h-1zM749,392h1v1h-1zM1084,392h1v1h-1zM497,393h1v1h-1zM749,393h1v1h-1zM1084,393h1v1h-1zM497,394h1v1h-1zM748,394h1v1h-1zM1085,394h1v1h-1zM498,395h1v1h-1zM748,395h1v1h-1zM1085,395h1v1h-1zM498,396h1v1h-1zM747,396h1v1h-1zM1086,396h1v1h-1zM499,397h1v1h-1zM747,397h1v1h-1zM1087,397h1v1h-1zM500,398h1v1h-1zM746,398h1v1h-1zM1087,398h1v1h-1zM501,399h1v1h-1zM585,399h3v1h-3zM746,399h1v1h-1zM1088,399h1v1h-1zM502,400h1v1h-1zM581,400h4v1h-4zM588,400h2v1h-2zM745,400h1v1h-1zM1089,400h1v1h-1zM503,401h1v1h-1zM579,401h2v1h-2zM590,401h2v1h-2zM745,401h1v1h-1zM1089,401h1v1h-1zM503,402h1v1h-1zM577,402h2v1h-2zM592,402h2v1h-2zM744,402h1v1h-1zM1090,402h1v1h-1zM504,403h1v1h-1zM575,403h2v1h-2zM594,403h2v1h-2zM744,403h1v1h-1zM1090,403h1v1h-1zM505,404h1v1h-1zM574,404h1v1h-1zM596,404h2v1h-2zM744,404h1v1h-1zM1091,404h1v1h-1zM506,405h1v1h-1zM572,405h2v1h-2zM598,405h1v1h-1zM743,405h1v1h-1zM1092,405h1v1h-1zM507,406h1v1h-1zM571,406h1v1h-1zM599,406h2v1h-2zM743,406h1v1h-1zM1092,406h1v1h-1zM508,407h1v1h-1zM570,407h1v1h-1zM601,407h2v1h-2zM742,407h1v1h-1zM1093,407h1v1h-1zM508,408h1v1h-1zM569,408h1v1h-1zM603,408h10v1h-10zM742,408h1v1h-1zM1093,408h1v1h-1zM509,409h1v1h-1zM568,409h1v1h-1zM613,409h2v1h-2zM742,409h1v1h-1zM1094,409h1v1h-1zM510,410h1v1h-1zM567,410h1v1h-1zM615,410h3v1h-3zM741,410h1v1h-1zM1095,410h1v1h-1zM510,411h1v1h-1zM566,411h1v1h-1zM618,411h3v1h-3zM741,411h1v1h-1zM1095,411h1v1h-1zM511,412h1v1h-1zM565,412h1v1h-1zM621,412h4v1h-4zM740,412h1v1h-1zM1096,412h1v1h-1zM512,413h1v1h-1zM564,413h1v1h-1zM625,413h3v1h-3zM740,413h1v1h-1zM1097,413h1v1h-1zM512,414h1v1h-1zM563,414h1v1h-1zM628,414h2v1h-2zM739,414h1v1h-1zM1097,414h1v1h-1zM513,415h1v1h-1zM562,415h1v1h-1zM630,415h1v1h-1zM739,415h1v1h-1zM1098,415h1v1h-1zM514,416h1v1h-1zM562,416h1v1h-1zM631,416h2v1h-2zM738,416h1v1h-1zM1098,416h1v1h-1zM514,417h1v1h-1zM561,417h1v1h-1zM633,417h2v1h-2zM649,417h4v1h-4zM738,417h1v1h-1zM1099,417h1v1h-1zM515,418h2v1h-2zM560,418h1v1h-1zM635,418h4v1h-4zM645,418h4v1h-4zM653,418h4v1h-4zM737,418h1v1h-1zM1100,418h1v1h-1zM517,419h2v1h-2zM559,419h1v1h-1zM639,419h6v1h-6zM657,419h3v1h-3zM736,419h1v1h-1zM1100,419h1v1h-1zM519,420h3v1h-3zM559,420h1v1h-1zM660,420h2v1h-2zM735,420h1v1h-1zM1101,420h1v1h-1zM522,421h2v1h-2zM558,421h1v1h-1zM662,421h2v1h-2zM735,421h1v1h-1zM1102,421h1v1h-1zM524,422h2v1h-2zM557,422h1v1h-1zM664,422h2v1h-2zM734,422h1v1h-1zM1102,422h1v1h-1zM526,423h1v1h-1zM556,423h1v1h-1zM666,423h2v1h-2zM733,423h1v1h-1zM1103,423h1v1h-1zM527,424h2v1h-2zM556,424h1v1h-1zM668,424h1v1h-1zM732,424h1v1h-1zM1104,424h1v1h-1zM529,425h2v1h-2zM555,425h1v1h-1zM669,425h1v1h-1zM732,425h1v1h-1zM1104,425h1v1h-1zM531,426h1v1h-1zM554,426h1v1h-1zM670,426h1v1h-1zM731,426h1v1h-1zM1105,426h1v1h-1zM532,427h1v1h-1zM553,427h1v1h-1zM671,427h2v1h-2zM729,427h2v1h-2zM1106,427h1v1h-1zM533,428h2v1h-2zM552,428h1v1h-1zM673,428h1v1h-1zM728,428h1v1h-1zM1106,428h1v1h-1zM535,429h1v1h-1zM551,429h1v1h-1zM674,429h1v1h-1zM727,429h1v1h-1zM1107,429h1v1h-1zM536,430h1v1h-1zM550,430h1v1h-1zM675,430h1v1h-1zM725,430h2v1h-2zM1108,430h1v1h-1zM537,431h2v1h-2zM549,431h1v1h-1zM676,431h1v1h-1zM724,431h1v1h-1zM1108,431h1v1h-1zM539,432h4v1h-4zM548,432h1v1h-1zM677,432h1v1h-1zM723,432h1v1h-1zM1109,432h1v1h-1zM543,433h5v1h-5zM678,433h1v1h-1zM722,433h1v1h-1zM1110,433h1v1h-1zM679,434h1v1h-1zM721,434h1v1h-1zM1111,434h1v1h-1zM679,435h1v1h-1zM721,435h1v1h-1zM1111,435h1v1h-1zM680,436h1v1h-1zM720,436h1v1h-1zM1112,436h1v1h-1zM681,437h1v1h-1zM719,437h1v1h-1zM1113,437h1v1h-1zM682,438h1v1h-1zM718,438h1v1h-1zM1114,438h1v1h-1zM683,439h1v1h-1zM717,439h1v1h-1zM1114,439h1v1h-1zM684,440h1v1h-1zM717,440h1v1h-1zM1115,440h1v1h-1zM685,441h1v1h-1zM716,441h1v1h-1zM686,442h1v1h-1zM715,442h1v1h-1zM687,443h1v1h-1zM714,443h1v1h-1zM688,444h1v1h-1zM713,444h1v1h-1zM689,445h1v1h-1zM712,445h1v1h-1zM690,446h1v1h-1zM711,446h1v1h-1zM691,447h2v1h-2zM710,447h1v1h-1zM693,448h2v1h-2zM709,448h1v1h-1zM695,449h3v1h-3zM708,449h1v1h-1zM698,450h10v1h-10z" fill="#ff0000" shape-rendering="crispEdges"/>
<path d="M891,152h2v1h-2zM891,153h1v1h-1zM893,153h4v1h-4zM890,154h1v1h-1zM897,154h3v1h-3zM890,155h1v1h-1zM899,155h1v1h-1zM889,156h1v1h-1zM900,156h1v1h-1zM889,157h1v1h-1zM900,157h1v1h-1zM888,158h1v1h-1zM901,158h1v1h-1zM888,159h1v1h-1zM901,159h1v1h-1zM887,160h1v1h-1zM901,160h1v1h-1zM887,161h1v1h-1zM902,161h1v1h-1zM886,162h1v1h-1zM902,162h1v1h-1zM886,163h1v1h-1zM903,163h1v1h-1zM885,164h1v1h-1zM903,164h1v1h-1zM91,165h4v1h-4zM885,165h1v1h-1zM903,165h1v1h-1zM90,166h1v1h-1zM95,166h5v1h-5zM884,166h1v1h-1zM904,166h1v1h-1zM89,167h1v1h-1zM100,167h1v1h-1zM884,167h1v1h-1zM904,167h1v1h-1zM87,168h2v1h-2zM100,168h1v1h-1zM883,168h1v1h-1zM905,168h1v1h-1zM86,169h1v1h-1zM101,169h1v1h-1zM883,169h1v1h-1zM905,169h1v1h-1zM85,170h1v1h-1zM102,170h1v1h-1zM883,170h1v1h-1zM905,170h1v1h-1zM84,171h1v1h-1zM102,171h1v1h-1zM882,171h1v1h-1zM906,171h1v1h-1zM82,172h2v1h-2zM103,172h1v1h-1zM882,172h1v1h-1zM906,172h1v1h-1zM80,173h2v1h-2zM104,173h1v1h-1zM882,173h1v1h-1zM907,173h1v1h-1zM78,174h2v1h-2zM104,174h1v1h-1zM882,174h1v1h-1zM907,174h1v1h-1zM76,175h2v1h-2zM105,175h1v1h-1zM881,175h1v1h-1zM907,175h1v1h-1zM75,176h1v1h-1zM106,176h1v1h-1zM881,176h1v1h-1zM908,176h1v1h-1zM73,177h2v1h-2zM106,177h1v1h-1zM881,177h1v1h-1zM908,177h1v1h-1zM72,178h1v1h-1zM107,178h1v1h-1zM880,178h1v1h-1zM908,178h1v1h-1zM71,179h1v1h-1zM108,179h1v1h-1zM880,179h1v1h-1zM909,179h1v1h-1zM69,180h2v1h-2zM108,180h1v1h-1zM880,180h1v1h-1zM909,180h1v1h-1zM68,181h1v1h-1zM109,181h1v1h-1zM880,181h1v1h-1zM910,181h1v1h-1zM67,182h1v1h-1zM109,182h1v1h-1zM879,182h1v1h-1zM910,182h1v1h-1zM66,183h1v1h-1zM110,183h1v1h-1zM879,183h1v1h-1zM910,183h1v1h-1zM65,184h1v1h-1zM110,184h1v1h-1zM879,184h1v1h-1zM911,184h1v1h-1zM64,185h1v1h-1zM111,185h1v1h-1zM878,185h1v1h-1zM911,185h1v1h-1zM63,186h1v1h-1zM111,186h1v1h-1zM878,186h1v1h-1zM911,186h1v1h-1zM62,187h1v1h-1zM112,187h1v1h-1zM878,187h1v1h-1zM912,187h1v1h-1zM61,188h1v1h-1zM112,188h1v1h-1zM878,188h1v1h-1zM912,188h1v1h-1zM60,189h1v1h-1zM113,189h1v1h-1zM877,189h1v1h-1zM912,189h1v1h-1zM59,190h1v1h-1zM113,190h1v1h-1zM877,190h1v1h-1zM913,190h1v1h-1zM59,191h1v1h-1zM114,191h1v1h-1zM877,191h1v1h-1zM913,191h1v1h-1zM58,192h1v1h-1zM114,192h1v1h-1zM876,192h1v1h-1zM914,192h1v1h-1zM58,193h1v1h-1zM115,193h1v1h-1zM876,193h1v1h-1zM914,193h1v1h-1zM57,194h1v1h-1zM115,194h1v1h-1zM219,194h2v1h-2zM876,194h1v1h-1zM914,194h1v1h-1zM57,195h1v1h-1zM115,195h1v1h-1zM218,195h1v1h-1zM221,195h4v1h-4zM876,195h1v1h-1zM915,195h1v1h-1zM56,196h1v1h-1zM115,196h1v1h-1zM217,196h1v1h-1zM225,196h3v1h-3zM875,196h1v1h-1zM915,196h1v1h-1zM56,197h1v1h-1zM116,197h1v1h-1zM216,197h1v1h-1zM228,197h2v1h-2zM875,197h1v1h-1zM915,197h1v1h-1zM55,198h1v1h-1zM116,198h1v1h-1zM215,198h1v1h-1zM230,198h1v1h-1zM875,198h1v1h-1zM916,198h1v1h-1zM55,199h1v1h-1zM116,199h1v1h-1zM215,199h1v1h-1zM231,199h2v1h-2zM875,199h1v1h-1zM916,199h1v1h-1zM54,200h1v1h-1zM116,200h1v1h-1zM214,200h1v1h-1zM233,200h2v1h-2zM874,200h1v1h-1zM917,200h1v1h-1zM54,201h1v1h-1zM117,201h1v1h-1zM213,201h1v1h-1zM235,201h4v1h-4zM874,201h1v1h-1zM917,201h1v1h-1zM53,202h1v1h-1zM117,202h1v1h-1zM212,202h1v1h-1zM239,202h5v1h-5zM874,202h1v1h-1zM918,202h1v1h-1zM53,203h1v1h-1zM117,203h1v1h-1zM211,203h1v1h-1zM244,203h1v1h-1zM874,203h1v1h-1zM918,203h1v1h-1zM52,204h1v1h-1zM117,204h1v1h-1zM211,204h1v1h-1zM244,204h1v1h-1zM873,204h1v1h-1zM919,204h1v1h-1zM52,205h1v1h-1zM117,205h1v1h-1zM210,205h1v1h-1zM245,205h1v1h-1zM873,205h1v1h-1zM919,205h1v1h-1zM51,206h1v1h-1zM118,206h1v1h-1zM210,206h1v1h-1zM245,206h1v1h-1zM873,206h1v1h-1zM920,206h1v1h-1zM50,207h1v1h-1zM118,207h1v1h-1zM210,207h1v1h-1zM246,207h1v1h-1zM873,207h1v1h-1zM920,207h1v1h-1zM50,208h1v1h-1zM118,208h1v1h-1zM210,208h1v1h-1zM247,208h1v1h-1zM873,208h1v1h-1zM921,208h1v1h-1zM49,209h1v1h-1zM118,209h1v1h-1zM209,209h1v1h-1zM247,209h1v1h-1zM872,209h1v1h-1zM921,209h1v1h-1zM48,210h1v1h-1zM118,210h1v1h-1zM209,210h1v1h-1zM248,210h1v1h-1zM872,210h1v1h-1zM922,210h1v1h-1zM48,211h1v1h-1zM119,211h1v1h-1zM209,211h1v1h-1zM249,211h1v1h-1zM872,211h1v1h-1zM922,211h1v1h-1zM47,212h1v1h-1zM119,212h1v1h-1zM209,212h1v1h-1zM249,212h1v1h-1zM872,212h1v1h-1zM923,212h1v1h-1zM46,213h1v1h-1zM119,213h1v1h-1zM208,213h1v1h-1zM250,213h1v1h-1zM871,213h1v1h-1zM923,213h1v1h-1zM46,214h1v1h-1zM119,214h1v1h-1zM208,214h1v1h-1zM250,214h1v1h-1zM871,214h1v1h-1zM923,214h1v1h-1zM45,215h1v1h-1zM120,215h1v1h-1zM208,215h1v1h-1zM251,215h1v1h-1zM871,215h1v1h-1zM924,215h1v1h-1zM44,216h1v1h-1zM120,216h1v1h-1zM207,216h1v1h-1zM251,216h1v1h-1zM871,216h1v1h-1zM924,216h1v1h-1zM44,217h1v1h-1zM120,217h1v1h-1zM207,217h1v1h-1zM252,217h1v1h-1zM871,217h1v1h-1zM925,217h1v1h-1zM43,218h1v1h-1zM120,218h1v1h-1zM207,218h1v1h-1zM252,218h1v1h-1zM870,218h1v1h-1zM925,218h1v1h-1zM42,219h1v1h-1zM120,219h1v1h-1zM207,219h1v1h-1zM253,219h1v1h-1zM870,219h1v1h-1zM926,219h1v1h-1zM42,220h1v1h-1zM121,220h1v1h-1zM206,220h1v1h-1zM253,220h1v1h-1zM870,220h1v1h-1zM926,220h1v1h-1zM41,221h1v1h-1zM121,221h1v1h-1zM206,221h1v1h-1zM253,221h1v1h-1zM870,221h1v1h-1zM927,221h1v1h-1zM40,222h1v1h-1zM121,222h1v1h-1zM206,222h1v1h-1zM254,222h1v1h-1zM869,222h1v1h-1zM927,222h1v1h-1zM39,223h1v1h-1zM121,223h1v1h-1zM205,223h1v1h-1zM254,223h1v1h-1zM869,223h1v1h-1zM927,223h1v1h-1zM39,224h1v1h-1zM121,224h1v1h-1zM205,224h1v1h-1zM254,224h1v1h-1zM869,224h1v1h-1zM928,224h1v1h-1zM38,225h1v1h-1zM122,225h1v1h-1zM205,225h1v1h-1zM255,225h1v1h-1zM869,225h1v1h-1zM928,225h1v1h-1zM37,226h1v1h-1zM122,226h1v1h-1zM205,226h1v1h-1zM255,226h1v1h-1zM869,226h1v1h-1zM929,226h1v1h-1zM36,227h1v1h-1zM122,227h1v1h-1zM204,227h1v1h-1zM256,227h1v1h-1zM868,227h1v1h-1zM929,227h1v1h-1zM36,228h1v1h-1zM122,228h1v1h-1zM204,228h1v1h-1zM256,228h1v1h-1zM868,228h1v1h-1zM930,228h1v1h-1zM35,229h1v1h-1zM123,229h1v1h-1zM204,229h1v1h-1zM256,229h1v1h-1zM868,229h1v1h-1zM930,229h1v1h-1zM34,230h1v1h-1zM123,230h1v1h-1zM204,230h1v1h-1zM257,230h1v1h-1zM868,230h1v1h-1zM931,230h1v1h-1zM33,231h1v1h-1zM123,231h1v1h-1zM203,231h1v1h-1zM257,231h1v1h-1zM867,231h1v1h-1zM931,231h1v1h-1zM33,232h1v1h-1zM123,232h1v1h-1zM203,232h1v1h-1zM257,232h1v1h-1zM867,232h1v1h-1zM931,232h1v1h-1zM32,233h1v1h-1zM124,233h1v1h-1zM203,233h1v1h-1zM258,233h1v1h-1zM867,233h1v1h-1zM932,233h1v1h-1zM31,234h1v1h-1zM124,234h1v1h-1zM202,234h1v1h-1zM258,234h1v1h-1zM867,234h1v1h-1zM932,234h1v1h-1zM30,235h1v1h-1zM124,235h1v1h-1zM202,235h1v1h-1zM259,235h1v1h-1zM866,235h1v1h-1zM932,235h1v1h-1zM29,236h1v1h-1zM124,236h1v1h-1zM201,236h1v1h-1zM259,236h1v1h-1zM866,236h1v1h-1zM932,236h1v1h-1zM29,237h1v1h-1zM125,237h1v1h-1zM201,237h1v1h-1zM259,237h1v1h-1zM866,237h1v1h-1zM933,237h1v1h-1zM28,238h1v1h-1zM125,238h1v1h-1zM201,238h1v1h-1zM259,238h1v1h-1zM866,238h1v1h-1zM933,238h1v1h-1zM27,239h1v1h-1zM125,239h1v1h-1zM200,239h1v1h-1zM260,239h1v1h-1zM865,239h1v1h-1zM933,239h1v1h-1zM26,240h1v1h-1zM126,240h1v1h-1zM200,240h1v1h-1zM260,240h1v1h-1zM865,240h1v1h-1zM933,240h1v1h-1zM26,241h1v1h-1zM126,241h1v1h-1zM199,241h1v1h-1zM260,241h1v1h-1zM865,241h1v1h-1zM934,241h1v1h-1zM25,242h1v1h-1zM126,242h1v1h-1zM199,242h1v1h-1zM260,242h1v1h-1zM865,242h1v1h-1zM934,242h1v1h-1zM25,243h1v1h-1zM127,243h1v1h-1zM199,243h1v1h-1zM260,243h1v1h-1zM864,243h1v1h-1zM934,243h1v1h-1zM24,244h1v1h-1zM127,244h1v1h-1zM198,244h1v1h-1zM261,244h1v1h-1zM864,244h1v1h-1zM934,244h1v1h-1zM24,245h1v1h-1zM127,245h1v1h-1zM198,245h1v1h-1zM261,245h1v1h-1zM864,245h1v1h-1zM935,245h1v1h-1zM23,246h1v1h-1zM127,246h1v1h-1zM197,246h1v1h-1zM261,246h1v1h-1zM863,246h1v1h-1zM935,246h1v1h-1zM23,247h1v1h-1zM128,247h1v1h-1zM197,247h1v1h-1zM261,247h1v1h-1zM863,247h1v1h-1zM935,247h1v1h-1zM22,248h1v1h-1zM128,248h1v1h-1zM197,248h1v1h-1zM261,248h1v1h-1zM863,248h1v1h-1zM935,248h1v1h-1zM22,249h1v1h-1zM128,249h1v1h-1zM196,249h1v1h-1zM262,249h1v1h-1zM863,249h1v1h-1zM936,249h1v1h-1zM21,250h1v1h-1zM129,250h1v1h-1zM196,250h1v1h-1zM262,250h1v1h-1zM862,250h1v1h-1zM936,250h1v1h-1zM21,251h1v1h-1zM129,251h1v1h-1zM195,251h1v1h-1zM262,251h1v1h-1zM862,251h1v1h-1zM936,251h1v1h-1zM20,252h1v1h-1zM129,252h1v1h-1zM195,252h1v1h-1zM262,252h1v1h-1zM787,252h1v1h-1zM862,252h1v1h-1zM936,252h1v1h-1zM20,253h1v1h-1zM130,253h1v1h-1zM195,253h1v1h-1zM262,253h1v1h-1zM786,253h1v1h-1zM788,253h1v1h-1zM861,253h1v1h-1zM937,253h1v1h-1zM18,254h2v1h-2zM130,254h1v1h-1zM194,254h1v1h-1zM263,254h1v1h-1zM786,254h1v1h-1zM788,254h1v1h-1zM861,254h1v1h-1zM937,254h1v1h-1zM16,255h2v1h-2zM130,255h1v1h-1zM194,255h1v1h-1zM263,255h1v1h-1zM785,255h1v1h-1zM789,255h1v1h-1zM861,255h1v1h-1zM937,255h1v1h-1zM14,256h2v1h-2zM130,256h1v1h-1zM194,256h1v1h-1zM263,256h1v1h-1zM784,256h1v1h-1zM789,256h1v1h-1zM861,256h1v1h-1zM937,256h1v1h-1zM12,257h2v1h-2zM131,257h1v1h-1zM193,257h1v1h-1zM263,257h1v1h-1zM783,257h1v1h-1zM790,257h1v1h-1zM860,257h1v1h-1zM938,257h1v1h-1zM11,258h1v1h-1zM131,258h1v1h-1zM193,258h1v1h-1zM263,258h1v1h-1zM783,258h1v1h-1zM790,258h1v1h-1zM860,258h1v1h-1zM938,258h1v1h-1zM10,259h1v1h-1zM131,259h1v1h-1zM192,259h1v1h-1zM263,259h1v1h-1zM782,259h1v1h-1zM791,259h1v1h-1zM860,259h1v1h-1zM938,259h1v1h-1zM10,260h1v1h-1zM132,260h1v1h-1zM192,260h1v1h-1zM264,260h1v1h-1zM781,260h1v1h-1zM791,260h1v1h-1zM860,260h1v1h-1zM938,260h1v1h-1zM9,261h1v1h-1zM132,261h1v1h-1zM192,261h1v1h-1zM264,261h1v1h-1zM780,261h1v1h-1zM792,261h1v1h-1zM859,261h1v1h-1zM939,261h1v1h-1zM8,262h1v1h-1zM132,262h1v1h-1zM191,262h1v1h-1zM264,262h1v1h-1zM780,262h1v1h-1zM792,262h1v1h-1zM859,262h1v1h-1zM939,262h1v1h-1zM8,263h1v1h-1zM133,263h1v1h-1zM191,263h1v1h-1zM264,263h1v1h-1zM779,263h1v1h-1zM793,263h1v1h-1zM859,263h1v1h-1zM939,263h1v1h-1zM7,264h1v1h-1zM133,264h1v1h-1zM191,264h1v1h-1zM264,264h1v1h-1zM778,264h1v1h-1zM793,264h1v1h-1zM859,264h1v1h-1zM940,264h1v1h-1zM6,265h1v1h-1zM133,265h1v1h-1zM190,265h1v1h-1zM265,265h1v1h-1zM777,265h1v1h-1zM794,265h1v1h-1zM858,265h1v1h-1zM940,265h1v1h-1zM6,266h1v1h-1zM133,266h1v1h-1zM190,266h1v1h-1zM265,266h1v1h-1zM776,266h1v1h-1zM794,266h1v1h-1zM858,266h1v1h-1zM940,266h1v1h-1zM5,267h1v1h-1zM134,267h1v1h-1zM190,267h1v1h-1zM265,267h1v1h-1zM775,267h1v1h-1zM795,267h1v1h-1zM858,267h1v1h-1zM940,267h1v1h-1zM4,268h1v1h-1zM134,268h1v1h-1zM189,268h1v1h-1zM265,268h1v1h-1zM774,268h1v1h-1zM795,268h1v1h-1zM858,268h1v1h-1zM941,268h1v1h-1zM4,269h1v1h-1zM134,269h1v1h-1zM189,269h1v1h-1zM265,269h1v1h-1zM773,269h1v1h-1zM796,269h1v1h-1zM858,269h1v1h-1zM941,269h1v1h-1zM3,270h1v1h-1zM135,270h1v1h-1zM188,270h1v1h-1zM266,270h1v1h-1zM772,270h1v1h-1zM796,270h1v1h-1zM857,270h1v1h-1zM941,270h1v1h-1zM135,271h1v1h-1zM188,271h1v1h-1zM266,271h1v1h-1zM771,271h1v1h-1zM796,271h1v1h-1zM857,271h1v1h-1zM941,271h1v1h-1zM135,272h1v1h-1zM188,272h1v1h-1zM266,272h1v1h-1zM771,272h1v1h-1zM797,272h1v1h-1zM857,272h1v1h-1zM942,272h1v1h-1zM136,273h1v1h-1zM187,273h1v1h-1zM266,273h1v1h-1zM770,273h1v1h-1zM797,273h1v1h-1zM857,273h1v1h-1zM942,273h1v1h-1zM136,274h1v1h-1zM187,274h1v1h-1zM266,274h1v1h-1zM770,274h1v1h-1zM797,274h1v1h-1zM856,274h1v1h-1zM942,274h1v1h-1zM136,275h1v1h-1zM186,275h1v1h-1zM267,275h1v1h-1zM769,275h1v1h-1zM798,275h1v1h-1zM856,275h1v1h-1zM942,275h1v1h-1zM137,276h1v1h-1zM186,276h1v1h-1zM267,276h1v1h-1zM769,276h1v1h-1zM798,276h1v1h-1zM856,276h1v1h-1zM943,276h1v1h-1zM137,277h1v1h-1zM185,277h1v1h-1zM267,277h1v1h-1zM768,277h1v1h-1zM798,277h1v1h-1zM856,277h1v1h-1zM943,277h1v1h-1zM137,278h1v1h-1zM185,278h1v1h-1zM267,278h1v1h-1zM768,278h1v1h-1zM799,278h1v1h-1zM856,278h1v1h-1zM943,278h1v1h-1zM137,279h1v1h-1zM184,279h1v1h-1zM267,279h1v1h-1zM767,279h1v1h-1zM799,279h1v1h-1zM855,279h1v1h-1zM943,279h1v1h-1zM138,280h1v1h-1zM184,280h1v1h-1zM268,280h1v1h-1zM403,280h1v1h-1zM767,280h1v1h-1zM799,280h1v1h-1zM855,280h1v1h-1zM944,280h1v1h-1zM138,281h1v1h-1zM183,281h1v1h-1zM268,281h1v1h-1zM401,281h2v1h-2zM404,281h1v1h-1zM766,281h1v1h-1zM799,281h1v1h-1zM855,281h1v1h-1zM944,281h1v1h-1zM138,282h1v1h-1zM183,282h1v1h-1zM268,282h1v1h-1zM400,282h1v1h-1zM405,282h1v1h-1zM766,282h1v1h-1zM800,282h1v1h-1zM855,282h1v1h-1zM944,282h1v1h-1zM139,283h1v1h-1zM182,283h1v1h-1zM268,283h1v1h-1zM399,283h1v1h-1zM406,283h1v1h-1zM765,283h1v1h-1zM800,283h1v1h-1zM855,283h1v1h-1zM944,283h1v1h-1zM139,284h1v1h-1zM182,284h1v1h-1zM269,284h1v1h-1zM397,284h2v1h-2zM407,284h1v1h-1zM765,284h1v1h-1zM800,284h1v1h-1zM854,284h1v1h-1zM945,284h1v1h-1zM139,285h1v1h-1zM181,285h1v1h-1zM269,285h1v1h-1zM396,285h1v1h-1zM407,285h1v1h-1zM764,285h1v1h-1zM801,285h1v1h-1zM854,285h1v1h-1zM945,285h1v1h-1zM140,286h1v1h-1zM181,286h1v1h-1zM269,286h1v1h-1zM395,286h1v1h-1zM408,286h1v1h-1zM764,286h1v1h-1zM801,286h1v1h-1zM854,286h1v1h-1zM945,286h1v1h-1zM140,287h1v1h-1zM180,287h1v1h-1zM269,287h1v1h-1zM393,287h2v1h-2zM409,287h1v1h-1zM763,287h1v1h-1zM801,287h1v1h-1zM854,287h1v1h-1zM945,287h1v1h-1zM140,288h1v1h-1zM180,288h1v1h-1zM270,288h1v1h-1zM392,288h1v1h-1zM410,288h1v1h-1zM763,288h1v1h-1zM802,288h1v1h-1zM854,288h1v1h-1zM946,288h1v1h-1zM141,289h1v1h-1zM179,289h1v1h-1zM270,289h1v1h-1zM391,289h1v1h-1zM411,289h1v1h-1zM763,289h1v1h-1zM802,289h1v1h-1zM853,289h1v1h-1zM946,289h1v1h-1zM141,290h1v1h-1zM179,290h1v1h-1zM270,290h1v1h-1zM389,290h2v1h-2zM412,290h2v1h-2zM762,290h1v1h-1zM802,290h1v1h-1zM853,290h1v1h-1zM946,290h1v1h-1zM141,291h1v1h-1zM178,291h1v1h-1zM270,291h1v1h-1zM388,291h1v1h-1zM414,291h2v1h-2zM762,291h1v1h-1zM803,291h1v1h-1zM853,291h1v1h-1zM946,291h1v1h-1zM142,292h1v1h-1zM178,292h1v1h-1zM271,292h1v1h-1zM387,292h1v1h-1zM416,292h2v1h-2zM762,292h1v1h-1zM803,292h1v1h-1zM853,292h1v1h-1zM947,292h1v1h-1zM142,293h1v1h-1zM178,293h1v1h-1zM271,293h1v1h-1zM387,293h1v1h-1zM418,293h2v1h-2zM762,293h1v1h-1zM803,293h1v1h-1zM852,293h1v1h-1zM947,293h1v1h-1zM142,294h1v1h-1zM177,294h1v1h-1zM271,294h1v1h-1zM386,294h1v1h-1zM420,294h1v1h-1zM761,294h1v1h-1zM804,294h1v1h-1zM852,294h1v1h-1zM947,294h1v1h-1zM143,295h1v1h-1zM177,295h1v1h-1zM271,295h1v1h-1zM386,295h1v1h-1zM421,295h1v1h-1zM761,295h1v1h-1zM804,295h1v1h-1zM852,295h1v1h-1zM948,295h1v1h-1zM143,296h1v1h-1zM177,296h1v1h-1zM272,296h1v1h-1zM385,296h1v1h-1zM422,296h1v1h-1zM761,296h1v1h-1zM805,296h1v1h-1zM852,296h1v1h-1zM948,296h1v1h-1zM143,297h1v1h-1zM177,297h1v1h-1zM272,297h1v1h-1zM385,297h1v1h-1zM423,297h2v1h-2zM761,297h1v1h-1zM805,297h1v1h-1zM852,297h1v1h-1zM948,297h1v1h-1zM144,298h1v1h-1zM176,298h1v1h-1zM272,298h1v1h-1zM384,298h1v1h-1zM425,298h1v1h-1zM760,298h1v1h-1zM806,298h1v1h-1zM851,298h1v1h-1zM948,298h1v1h-1zM144,299h1v1h-1zM176,299h1v1h-1zM272,299h1v1h-1zM384,299h1v1h-1zM426,299h1v1h-1zM760,299h1v1h-1zM806,299h1v1h-1zM851,299h1v1h-1zM949,299h1v1h-1zM144,300h1v1h-1zM176,300h1v1h-1zM273,300h1v1h-1zM383,300h1v1h-1zM427,300h1v1h-1zM760,300h1v1h-1zM806,300h1v1h-1zM851,300h1v1h-1zM949,300h1v1h-1zM145,301h1v1h-1zM175,301h1v1h-1zM273,301h1v1h-1zM383,301h1v1h-1zM427,301h1v1h-1zM760,301h1v1h-1zM807,301h1v1h-1zM851,301h1v1h-1zM949,301h1v1h-1zM145,302h1v1h-1zM175,302h1v1h-1zM273,302h1v1h-1zM383,302h1v1h-1zM428,302h1v1h-1zM759,302h1v1h-1zM807,302h1v1h-1zM851,302h1v1h-1zM949,302h1v1h-1zM145,303h1v1h-1zM175,303h1v1h-1zM273,303h1v1h-1zM382,303h1v1h-1zM428,303h1v1h-1zM759,303h1v1h-1zM808,303h1v1h-1zM850,303h1v1h-1zM950,303h1v1h-1zM146,304h1v1h-1zM174,304h1v1h-1zM274,304h1v1h-1zM382,304h1v1h-1zM429,304h1v1h-1zM759,304h1v1h-1zM808,304h1v1h-1zM850,304h1v1h-1zM950,304h1v1h-1zM146,305h1v1h-1zM174,305h1v1h-1zM274,305h1v1h-1zM381,305h1v1h-1zM429,305h1v1h-1zM758,305h1v1h-1zM808,305h1v1h-1zM850,305h1v1h-1zM950,305h1v1h-1zM146,306h1v1h-1zM174,306h1v1h-1zM274,306h1v1h-1zM381,306h1v1h-1zM430,306h1v1h-1zM758,306h1v1h-1zM809,306h1v1h-1zM850,306h1v1h-1zM950,306h1v1h-1zM147,307h1v1h-1zM173,307h1v1h-1zM274,307h1v1h-1zM380,307h1v1h-1zM430,307h1v1h-1zM758,307h1v1h-1zM809,307h1v1h-1zM849,307h1v1h-1zM951,307h1v1h-1zM147,308h1v1h-1zM173,308h1v1h-1zM275,308h1v1h-1zM380,308h1v1h-1zM431,308h1v1h-1zM758,308h1v1h-1zM810,308h1v1h-1zM849,308h1v1h-1zM951,308h1v1h-1zM148,309h1v1h-1zM173,309h1v1h-1zM275,309h1v1h-1zM379,309h1v1h-1zM431,309h1v1h-1zM757,309h1v1h-1zM810,309h1v1h-1zM849,309h1v1h-1zM951,309h1v1h-1zM149,310h1v1h-1zM173,310h1v1h-1zM275,310h1v1h-1zM379,310h1v1h-1zM432,310h1v1h-1zM757,310h1v1h-1zM811,310h1v1h-1zM849,310h1v1h-1zM952,310h1v1h-1zM149,311h1v1h-1zM172,311h1v1h-1zM276,311h1v1h-1zM379,311h1v1h-1zM432,311h1v1h-1zM757,311h1v1h-1zM811,311h1v1h-1zM849,311h1v1h-1zM952,311h1v1h-1zM150,312h1v1h-1zM172,312h1v1h-1zM276,312h1v1h-1zM378,312h1v1h-1zM433,312h1v1h-1zM757,312h1v1h-1zM811,312h1v1h-1zM848,312h1v1h-1zM952,312h1v1h-1zM151,313h1v1h-1zM163,313h2v1h-2zM172,313h1v1h-1zM277,313h1v1h-1zM378,313h1v1h-1zM433,313h1v1h-1zM756,313h1v1h-1zM812,313h1v1h-1zM848,313h1v1h-1zM952,313h1v1h-1zM152,314h1v1h-1zM161,314h2v1h-2zM165,314h4v1h-4zM171,314h1v1h-1zM277,314h1v1h-1zM377,314h1v1h-1zM434,314h1v1h-1zM756,314h1v1h-1zM812,314h1v1h-1zM848,314h1v1h-1zM953,314h1v1h-1zM153,315h1v1h-1zM159,315h2v1h-2zM169,315h3v1h-3zM278,315h1v1h-1zM377,315h1v1h-1zM434,315h1v1h-1zM756,315h1v1h-1zM812,315h1v1h-1zM848,315h1v1h-1zM953,315h1v1h-1zM153,316h1v1h-1zM158,316h1v1h-1zM278,316h1v1h-1zM376,316h1v1h-1zM435,316h1v1h-1zM756,316h1v1h-1zM813,316h1v1h-1zM847,316h1v1h-1zM953,316h1v1h-1zM154,317h1v1h-1zM156,317h2v1h-2zM279,317h1v1h-1zM376,317h1v1h-1zM435,317h1v1h-1zM755,317h1v1h-1zM813,317h1v1h-1zM847,317h1v1h-1zM953,317h1v1h-1zM155,318h1v1h-1zM279,318h1v1h-1zM375,318h1v1h-1zM435,318h1v1h-1zM755,318h1v1h-1zM813,318h1v1h-1zM847,318h1v1h-1zM954,318h1v1h-1zM280,319h1v1h-1zM375,319h1v1h-1zM436,319h1v1h-1zM755,319h1v1h-1zM814,319h1v1h-1zM847,319h1v1h-1zM954,319h1v1h-1zM280,320h1v1h-1zM374,320h1v1h-1zM436,320h1v1h-1zM754,320h1v1h-1zM814,320h1v1h-1zM847,320h1v1h-1zM954,320h1v1h-1zM281,321h1v1h-1zM374,321h1v1h-1zM436,321h1v1h-1zM754,321h1v1h-1zM814,321h1v1h-1zM846,321h1v1h-1zM954,321h1v1h-1zM281,322h1v1h-1zM373,322h1v1h-1zM436,322h1v1h-1zM754,322h1v1h-1zM815,322h1v1h-1zM846,322h1v1h-1zM955,322h1v1h-1zM282,323h1v1h-1zM373,323h1v1h-1zM437,323h1v1h-1zM754,323h1v1h-1zM815,323h1v1h-1zM846,323h1v1h-1zM955,323h1v1h-1zM282,324h1v1h-1zM372,324h1v1h-1zM437,324h1v1h-1zM753,324h1v1h-1zM815,324h1v1h-1zM846,324h1v1h-1zM955,324h1v1h-1zM283,325h1v1h-1zM372,325h1v1h-1zM437,325h1v1h-1zM753,325h1v1h-1zM815,325h1v1h-1zM845,325h1v1h-1zM956,325h1v1h-1zM283,326h1v1h-1zM371,326h1v1h-1zM437,326h1v1h-1zM753,326h1v1h-1zM816,326h1v1h-1zM845,326h1v1h-1zM956,326h1v1h-1zM284,327h1v1h-1zM371,327h1v1h-1zM438,327h1v1h-1zM753,327h1v1h-1zM816,327h1v1h-1zM845,327h1v1h-1zM957,327h1v1h-1zM284,328h1v1h-1zM371,328h1v1h-1zM438,328h1v1h-1zM752,328h1v1h-1zM816,328h1v1h-1zM845,328h1v1h-1zM957,328h1v1h-1zM285,329h1v1h-1zM370,329h1v1h-1zM438,329h1v1h-1zM752,329h1v1h-1zM817,329h1v1h-1zM845,329h1v1h-1zM958,329h1v1h-1zM285,330h1v1h-1zM370,330h1v1h-1zM438,330h1v1h-1zM752,330h1v1h-1zM817,330h1v1h-1zM844,330h1v1h-1zM958,330h1v1h-1zM286,331h1v1h-1zM369,331h1v1h-1zM439,331h1v1h-1zM752,331h1v1h-1zM817,331h1v1h-1zM844,331h1v1h-1zM959,331h1v1h-1zM286,332h1v1h-1zM369,332h1v1h-1zM439,332h1v1h-1zM751,332h1v1h-1zM818,332h1v1h-1zM844,332h1v1h-1zM959,332h1v1h-1zM287,333h1v1h-1zM368,333h1v1h-1zM439,333h1v1h-1zM751,333h1v1h-1zM818,333h1v1h-1zM844,333h1v1h-1zM960,333h1v1h-1zM287,334h1v1h-1zM368,334h1v1h-1zM439,334h1v1h-1zM751,334h1v1h-1zM818,334h1v1h-1zM843,334h1v1h-1zM960,334h1v1h-1zM287,335h1v1h-1zM367,335h1v1h-1zM440,335h1v1h-1zM750,335h1v1h-1zM819,335h1v1h-1zM843,335h1v1h-1zM961,335h1v1h-1zM1023,335h5v1h-5zM288,336h1v1h-1zM367,336h1v1h-1zM440,336h1v1h-1zM750,336h1v1h-1zM819,336h1v1h-1zM843,336h1v1h-1zM961,336h1v1h-1zM1018,336h5v1h-5zM1028,336h1v1h-1zM288,337h1v1h-1zM366,337h1v1h-1zM440,337h1v1h-1zM750,337h1v1h-1zM819,337h1v1h-1zM843,337h1v1h-1zM962,337h1v1h-1zM1016,337h2v1h-2zM1029,337h2v1h-2zM289,338h1v1h-1zM366,338h1v1h-1zM440,338h1v1h-1zM750,338h1v1h-1zM820,338h1v1h-1zM842,338h1v1h-1zM962,338h1v1h-1zM1014,338h2v1h-2zM1031,338h1v1h-1zM289,339h1v1h-1zM365,339h1v1h-1zM441,339h1v1h-1zM749,339h1v1h-1zM820,339h1v1h-1zM842,339h1v1h-1zM963,339h1v1h-1zM1012,339h2v1h-2zM1032,339h1v1h-1zM290,340h1v1h-1zM365,340h1v1h-1zM441,340h1v1h-1zM749,340h1v1h-1zM821,340h1v1h-1zM841,340h1v1h-1zM963,340h1v1h-1zM1003,340h9v1h-9zM1033,340h2v1h-2zM290,341h1v1h-1zM364,341h1v1h-1zM441,341h1v1h-1zM749,341h1v1h-1zM821,341h1v1h-1zM841,341h1v1h-1zM964,341h1v1h-1zM1002,341h1v1h-1zM1035,341h1v1h-1zM291,342h1v1h-1zM364,342h1v1h-1zM441,342h1v1h-1zM749,342h1v1h-1zM822,342h1v1h-1zM840,342h1v1h-1zM965,342h2v1h-2zM1001,342h1v1h-1zM1036,342h1v1h-1zM291,343h1v1h-1zM362,343h2v1h-2zM442,343h1v1h-1zM748,343h1v1h-1zM822,343h1v1h-1zM840,343h1v1h-1zM967,343h1v1h-1zM999,343h2v1h-2zM1036,343h1v1h-1zM291,344h1v1h-1zM359,344h3v1h-3zM442,344h1v1h-1zM748,344h1v1h-1zM822,344h1v1h-1zM840,344h1v1h-1zM968,344h1v1h-1zM998,344h1v1h-1zM1037,344h1v1h-1zM292,345h1v1h-1zM357,345h2v1h-2zM442,345h1v1h-1zM748,345h1v1h-1zM823,345h1v1h-1zM839,345h1v1h-1zM969,345h2v1h-2zM997,345h1v1h-1zM1038,345h1v1h-1zM292,346h1v1h-1zM355,346h2v1h-2zM442,346h1v1h-1zM748,346h1v1h-1zM823,346h1v1h-1zM839,346h1v1h-1zM971,346h1v1h-1zM996,346h1v1h-1zM1038,346h1v1h-1zM292,347h1v1h-1zM354,347h1v1h-1zM443,347h1v1h-1zM747,347h1v1h-1zM824,347h1v1h-1zM838,347h1v1h-1zM972,347h1v1h-1zM995,347h1v1h-1zM1039,347h1v1h-1zM293,348h1v1h-1zM354,348h1v1h-1zM443,348h1v1h-1zM747,348h1v1h-1zM824,348h1v1h-1zM838,348h1v1h-1zM973,348h1v1h-1zM994,348h1v1h-1zM1040,348h1v1h-1zM293,349h1v1h-1zM353,349h1v1h-1zM443,349h1v1h-1zM747,349h1v1h-1zM824,349h1v1h-1zM838,349h1v1h-1zM974,349h1v1h-1zM993,349h1v1h-1zM1040,349h1v1h-1zM293,350h1v1h-1zM353,350h1v1h-1zM444,350h1v1h-1zM747,350h1v1h-1zM825,350h1v1h-1zM837,350h1v1h-1zM975,350h1v1h-1zM993,350h1v1h-1zM1041,350h1v1h-1zM294,351h1v1h-1zM352,351h1v1h-1zM444,351h1v1h-1zM746,351h1v1h-1zM825,351h1v1h-1zM837,351h1v1h-1zM976,351h1v1h-1zM992,351h1v1h-1zM1042,351h1v1h-1zM294,352h1v1h-1zM352,352h1v1h-1zM444,352h1v1h-1zM746,352h1v1h-1zM826,352h1v1h-1zM836,352h1v1h-1zM977,352h1v1h-1zM991,352h1v1h-1zM1042,352h1v1h-1zM294,353h1v1h-1zM351,353h1v1h-1zM444,353h1v1h-1zM746,353h1v1h-1zM826,353h1v1h-1zM836,353h1v1h-1zM978,353h1v1h-1zM990,353h1v1h-1zM1043,353h1v1h-1zM295,354h1v1h-1zM351,354h1v1h-1zM445,354h1v1h-1zM746,354h1v1h-1zM827,354h1v1h-1zM835,354h1v1h-1zM979,354h2v1h-2zM989,354h1v1h-1zM1044,354h1v1h-1zM295,355h1v1h-1zM350,355h1v1h-1zM445,355h1v1h-1zM746,355h1v1h-1zM827,355h9v1h-9zM981,355h2v1h-2zM989,355h1v1h-1zM1044,355h1v1h-1zM296,356h1v1h-1zM350,356h1v1h-1zM445,356h1v1h-1zM746,356h1v1h-1zM983,356h3v1h-3zM988,356h1v1h-1zM1045,356h1v1h-1zM296,357h1v1h-1zM349,357h1v1h-1zM445,357h1v1h-1zM745,357h1v1h-1zM986,357h2v1h-2zM1045,357h1v1h-1zM296,358h1v1h-1zM349,358h1v1h-1zM446,358h1v1h-1zM745,358h1v1h-1zM1046,358h1v1h-1zM297,359h1v1h-1zM348,359h1v1h-1zM446,359h1v1h-1zM745,359h1v1h-1zM1047,359h1v1h-1zM297,360h1v1h-1zM348,360h1v1h-1zM446,360h1v1h-1zM745,360h1v1h-1zM1047,360h1v1h-1zM297,361h1v1h-1zM347,361h1v1h-1zM446,361h1v1h-1zM745,361h1v1h-1zM1048,361h1v1h-1zM298,362h1v1h-1zM346,362h1v1h-1zM447,362h1v1h-1zM744,362h1v1h-1zM1049,362h1v1h-1zM298,363h1v1h-1zM346,363h1v1h-1zM447,363h1v1h-1zM744,363h1v1h-1zM1049,363h1v1h-1zM298,364h1v1h-1zM345,364h1v1h-1zM447,364h1v1h-1zM744,364h1v1h-1zM1050,364h1v1h-1zM299,365h1v1h-1zM344,365h1v1h-1zM447,365h1v1h-1zM744,365h1v1h-1zM1050,365h1v1h-1zM299,366h1v1h-1zM344,366h1v1h-1zM448,366h1v1h-1zM744,366h1v1h-1zM1051,366h1v1h-1zM300,367h1v1h-1zM343,367h1v1h-1zM448,367h1v1h-1zM743,367h1v1h-1zM1051,367h1v1h-1zM301,368h2v1h-2zM342,368h1v1h-1zM448,368h1v1h-1zM743,368h1v1h-1zM1052,368h1v1h-1zM303,369h1v1h-1zM342,369h1v1h-1zM448,369h1v1h-1zM743,369h1v1h-1zM1052,369h1v1h-1zM304,370h1v1h-1zM341,370h1v1h-1zM449,370h1v1h-1zM743,370h1v1h-1zM1052,370h1v1h-1zM305,371h2v1h-2zM340,371h1v1h-1zM449,371h1v1h-1zM743,371h1v1h-1zM1053,371h1v1h-1zM307,372h1v1h-1zM340,372h1v1h-1zM449,372h1v1h-1zM743,372h1v1h-1zM1053,372h1v1h-1zM308,373h1v1h-1zM339,373h1v1h-1zM449,373h1v1h-1zM742,373h1v1h-1zM1053,373h1v1h-1zM309,374h2v1h-2zM338,374h1v1h-1zM450,374h1v1h-1zM742,374h1v1h-1zM1054,374h1v1h-1zM311,375h1v1h-1zM337,375h1v1h-1zM450,375h1v1h-1zM742,375h1v1h-1zM1054,375h1v1h-1zM312,376h1v1h-1zM335,376h2v1h-2zM450,376h1v1h-1zM742,376h1v1h-1zM1054,376h1v1h-1zM313,377h2v1h-2zM334,377h1v1h-1zM450,377h1v1h-1zM742,377h1v1h-1zM1055,377h1v1h-1zM315,378h2v1h-2zM333,378h1v1h-1zM451,378h1v1h-1zM741,378h1v1h-1zM1055,378h1v1h-1zM317,379h2v1h-2zM332,379h1v1h-1zM451,379h1v1h-1zM741,379h1v1h-1zM1056,379h1v1h-1zM319,380h3v1h-3zM327,380h5v1h-5zM451,380h1v1h-1zM741,380h1v1h-1zM1056,380h1v1h-1zM322,381h5v1h-5zM452,381h1v1h-1zM741,381h1v1h-1zM1056,381h1v1h-1zM452,382h1v1h-1zM586,382h2v1h-2zM741,382h1v1h-1zM1057,382h1v1h-1zM452,383h1v1h-1zM583,383h3v1h-3zM588,383h2v1h-2zM740,383h1v1h-1zM1057,383h1v1h-1zM452,384h1v1h-1zM581,384h2v1h-2zM590,384h1v1h-1zM740,384h1v1h-1zM1057,384h1v1h-1zM453,385h1v1h-1zM571,385h10v1h-10zM591,385h2v1h-2zM740,385h1v1h-1zM1058,385h1v1h-1zM453,386h1v1h-1zM570,386h1v1h-1zM593,386h2v1h-2zM740,386h1v1h-1zM1058,386h1v1h-1zM453,387h1v1h-1zM569,387h1v1h-1zM595,387h1v1h-1zM740,387h1v1h-1zM1058,387h1v1h-1zM453,388h1v1h-1zM569,388h1v1h-1zM596,388h1v1h-1zM740,388h1v1h-1zM1059,388h1v1h-1zM454,389h1v1h-1zM568,389h1v1h-1zM596,389h1v1h-1zM739,389h1v1h-1zM1059,389h1v1h-1zM454,390h1v1h-1zM567,390h1v1h-1zM597,390h1v1h-1zM739,390h1v1h-1zM1060,390h1v1h-1zM454,391h1v1h-1zM566,391h1v1h-1zM598,391h1v1h-1zM739,391h1v1h-1zM1060,391h1v1h-1zM455,392h1v1h-1zM565,392h1v1h-1zM598,392h1v1h-1zM739,392h1v1h-1zM1061,392h1v1h-1zM455,393h1v1h-1zM565,393h1v1h-1zM599,393h1v1h-1zM738,393h1v1h-1zM1061,393h1v1h-1zM455,394h1v1h-1zM564,394h1v1h-1zM600,394h1v1h-1zM738,394h1v1h-1zM1062,394h1v1h-1zM455,395h1v1h-1zM563,395h1v1h-1zM600,395h1v1h-1zM738,395h1v1h-1zM1062,395h1v1h-1zM456,396h1v1h-1zM562,396h1v1h-1zM601,396h1v1h-1zM738,396h1v1h-1zM1063,396h1v1h-1zM456,397h1v1h-1zM561,397h1v1h-1zM602,397h1v1h-1zM737,397h1v1h-1zM1064,397h1v1h-1zM456,398h1v1h-1zM560,398h1v1h-1zM602,398h1v1h-1zM737,398h1v1h-1zM1064,398h1v1h-1zM457,399h1v1h-1zM559,399h1v1h-1zM603,399h1v1h-1zM737,399h1v1h-1zM1065,399h1v1h-1zM457,400h1v1h-1zM558,400h1v1h-1zM604,400h1v1h-1zM737,400h1v1h-1zM1065,400h1v1h-1zM457,401h1v1h-1zM557,401h1v1h-1zM604,401h1v1h-1zM736,401h1v1h-1zM1066,401h1v1h-1zM457,402h1v1h-1zM556,402h1v1h-1zM605,402h1v1h-1zM736,402h1v1h-1zM1066,402h1v1h-1zM458,403h1v1h-1zM555,403h1v1h-1zM605,403h1v1h-1zM736,403h1v1h-1zM1067,403h1v1h-1zM458,404h1v1h-1zM554,404h1v1h-1zM606,404h1v1h-1zM735,404h1v1h-1zM1067,404h1v1h-1zM458,405h1v1h-1zM554,405h1v1h-1zM606,405h1v1h-1zM735,405h1v1h-1zM1068,405h1v1h-1zM458,406h1v1h-1zM553,406h1v1h-1zM607,406h1v1h-1zM735,406h1v1h-1zM1068,406h1v1h-1zM459,407h1v1h-1zM553,407h1v1h-1zM608,407h1v1h-1zM735,407h1v1h-1zM1069,407h1v1h-1zM459,408h1v1h-1zM552,408h1v1h-1zM608,408h1v1h-1zM734,408h1v1h-1zM1069,408h1v1h-1zM459,409h1v1h-1zM551,409h1v1h-1zM609,409h1v1h-1zM734,409h1v1h-1zM1070,409h1v1h-1zM460,410h1v1h-1zM551,410h1v1h-1zM609,410h1v1h-1zM734,410h1v1h-1zM1070,410h1v1h-1zM460,411h1v1h-1zM550,411h1v1h-1zM610,411h1v1h-1zM733,411h1v1h-1zM1071,411h1v1h-1zM461,412h1v1h-1zM549,412h1v1h-1zM610,412h1v1h-1zM733,412h1v1h-1zM1071,412h1v1h-1zM461,413h1v1h-1zM549,413h1v1h-1zM611,413h1v1h-1zM733,413h1v1h-1zM1072,413h1v1h-1zM462,414h1v1h-1zM548,414h1v1h-1zM612,414h1v1h-1zM733,414h1v1h-1zM1072,414h1v1h-1zM462,415h1v1h-1zM529,415h3v1h-3zM548,415h1v1h-1zM612,415h1v1h-1zM732,415h1v1h-1zM1073,415h1v1h-1zM463,416h1v1h-1zM525,416h4v1h-4zM532,416h2v1h-2zM546,416h2v1h-2zM613,416h1v1h-1zM732,416h1v1h-1zM1073,416h1v1h-1zM463,417h1v1h-1zM523,417h2v1h-2zM534,417h2v1h-2zM543,417h3v1h-3zM613,417h1v1h-1zM732,417h1v1h-1zM1074,417h1v1h-1zM464,418h1v1h-1zM522,418h1v1h-1zM536,418h2v1h-2zM541,418h2v1h-2zM614,418h1v1h-1zM732,418h1v1h-1zM1074,418h1v1h-1zM464,419h1v1h-1zM522,419h1v1h-1zM538,419h3v1h-3zM614,419h1v1h-1zM731,419h1v1h-1zM1075,419h1v1h-1zM465,420h1v1h-1zM521,420h1v1h-1zM615,420h1v1h-1zM731,420h1v1h-1zM1075,420h1v1h-1zM465,421h1v1h-1zM520,421h1v1h-1zM616,421h1v1h-1zM730,421h1v1h-1zM1075,421h1v1h-1zM466,422h1v1h-1zM519,422h1v1h-1zM616,422h1v1h-1zM730,422h1v1h-1zM1076,422h1v1h-1zM466,423h1v1h-1zM519,423h1v1h-1zM617,423h1v1h-1zM729,423h1v1h-1zM1076,423h1v1h-1zM467,424h1v1h-1zM518,424h1v1h-1zM617,424h1v1h-1zM729,424h1v1h-1zM1076,424h1v1h-1zM467,425h1v1h-1zM517,425h1v1h-1zM618,425h1v1h-1zM728,425h1v1h-1zM1076,425h1v1h-1zM468,426h1v1h-1zM516,426h1v1h-1zM618,426h1v1h-1zM727,426h1v1h-1zM1077,426h1v1h-1zM468,427h1v1h-1zM516,427h1v1h-1zM619,427h1v1h-1zM727,427h1v1h-1zM1077,427h1v1h-1zM469,428h1v1h-1zM515,428h1v1h-1zM620,428h1v1h-1zM726,428h1v1h-1zM1077,428h1v1h-1zM470,429h1v1h-1zM513,429h2v1h-2zM620,429h1v1h-1zM725,429h1v1h-1zM1078,429h1v1h-1zM470,430h1v1h-1zM512,430h1v1h-1zM621,430h1v1h-1zM725,430h1v1h-1zM1078,430h1v1h-1zM471,431h1v1h-1zM511,431h1v1h-1zM621,431h1v1h-1zM724,431h1v1h-1zM1078,431h1v1h-1zM472,432h1v1h-1zM509,432h2v1h-2zM622,432h1v1h-1zM667,432h9v1h-9zM724,432h1v1h-1zM1078,432h1v1h-1zM472,433h1v1h-1zM508,433h1v1h-1zM622,433h1v1h-1zM665,433h2v1h-2zM676,433h1v1h-1zM723,433h1v1h-1zM1079,433h1v1h-1zM473,434h1v1h-1zM507,434h1v1h-1zM623,434h1v1h-1zM664,434h1v1h-1zM677,434h2v1h-2zM722,434h1v1h-1zM1079,434h1v1h-1zM474,435h1v1h-1zM506,435h1v1h-1zM624,435h1v1h-1zM663,435h1v1h-1zM679,435h1v1h-1zM722,435h1v1h-1zM1079,435h1v1h-1zM474,436h1v1h-1zM506,436h1v1h-1zM624,436h1v1h-1zM661,436h2v1h-2zM680,436h1v1h-1zM721,436h1v1h-1zM1080,436h1v1h-1zM475,437h1v1h-1zM505,437h1v1h-1zM625,437h1v1h-1zM660,437h1v1h-1zM681,437h2v1h-2zM720,437h1v1h-1zM1080,437h1v1h-1zM476,438h1v1h-1zM504,438h1v1h-1zM625,438h1v1h-1zM659,438h1v1h-1zM683,438h1v1h-1zM720,438h1v1h-1zM1080,438h1v1h-1zM477,439h1v1h-1zM504,439h1v1h-1zM626,439h1v1h-1zM658,439h1v1h-1zM684,439h2v1h-2zM719,439h1v1h-1zM1080,439h1v1h-1zM478,440h1v1h-1zM503,440h1v1h-1zM626,440h1v1h-1zM657,440h1v1h-1zM686,440h1v1h-1zM718,440h1v1h-1zM1081,440h1v1h-1zM479,441h1v1h-1zM502,441h1v1h-1zM627,441h1v1h-1zM657,441h1v1h-1zM687,441h2v1h-2zM718,441h1v1h-1zM1081,441h1v1h-1zM479,442h1v1h-1zM502,442h1v1h-1zM628,442h1v1h-1zM656,442h1v1h-1zM689,442h2v1h-2zM717,442h1v1h-1zM1081,442h1v1h-1zM480,443h1v1h-1zM501,443h1v1h-1zM629,443h1v1h-1zM655,443h1v1h-1zM691,443h2v1h-2zM716,443h1v1h-1zM1082,443h1v1h-1zM481,444h1v1h-1zM500,444h1v1h-1zM629,444h1v1h-1zM654,444h1v1h-1zM693,444h2v1h-2zM716,444h1v1h-1zM1082,444h1v1h-1zM482,445h1v1h-1zM500,445h1v1h-1zM630,445h1v1h-1zM653,445h1v1h-1zM695,445h3v1h-3zM715,445h1v1h-1zM1082,445h1v1h-1zM483,446h1v1h-1zM498,446h2v1h-2zM631,446h1v1h-1zM653,446h1v1h-1zM698,446h2v1h-2zM714,446h1v1h-1zM1082,446h1v1h-1zM484,447h2v1h-2zM496,447h2v1h-2zM632,447h1v1h-1zM652,447h1v1h-1zM700,447h1v1h-1zM713,447h1v1h-1zM1083,447h1v1h-1zM486,448h2v1h-2zM494,448h2v1h-2zM633,448h1v1h-1zM651,448h1v1h-1zM701,448h1v1h-1zM712,448h1v1h-1zM1083,448h1v1h-1zM488,449h2v1h-2zM492,449h2v1h-2zM633,449h1v1h-1zM650,449h1v1h-1zM702,449h1v1h-1zM711,449h1v1h-1zM1083,449h1v1h-1zM490,450h2v1h-2zM634,450h1v1h-1zM649,450h1v1h-1zM703,450h2v1h-2zM710,450h1v1h-1zM1084,450h1v1h-1zM635,451h1v1h-1zM647,451h2v1h-2zM705,451h1v1h-1zM709,451h1v1h-1zM1084,451h1v1h-1zM636,452h2v1h-2zM646,452h1v1h-1zM706,452h1v1h-1zM708,452h1v1h-1zM1085,452h1v1h-1zM638,453h2v1h-2zM645,453h1v1h-1zM707,453h1v1h-1zM1085,453h1v1h-1zM640,454h2v1h-2zM644,454h1v1h-1zM1086,454h1v1h-1zM642,455h2v1h-2zM1086,455h1v1h-1zM1087,456h1v1h-1zM1087,457h1v1h-1zM1087,458h1v1h-1zM1088,459h1v1h-1zM1088,460h1v1h-1zM1089,461h1v1h-1zM1089,462h1v1h-1zM1090,463h1v1h-1zM1090,464h1v1h-1zM1091,465h1v1h-1zM1091,466h1v1h-1zM1092,467h1v1h-1zM1092,468h1v1h-1zM1093,469h1v1h-1zM1093,470h1v1h-1zM1094,471h1v1h-1zM1094,472h1v1h-1zM1095,473h1v1h-1zM1095,474h1v1h-1zM1096,475h1v1h-1zM1096,476h1v1h-1zM1097,477h1v1h-1zM1097,478h1v1h-1zM1098,479h1v1h-1zM1098,480h1v1h-1zM1099,481h1v1h-1zM1100,482h1v1h-1zM1101,483h1v1h-1zM1101,484h1v1h-1zM1102,485h1v1h-1zM1103,486h1v1h-1zM1104,487h1v1h-1zM1105,488h1v1h-1zM1105,489h1v1h-1zM1106,490h1v1h-1zM1107,491h9v1h-9z" fill="#0000cd" shape-rendering="crispEdges"/>
<g shape-rendering="crispEdges">
<rect x="3" y="117" width="1415" height="3" fill="#ff0000"/>
<rect x="3" y="283" width="1415" height="3" fill="#ff0000"/>
<rect x="3" y="419" width="1415" height="3" fill="#00ff00"/>
<rect x="3" y="549" width="1415" height="3" fill="#0000ff"/>
<polygon points="1129,25 1138,25 1133.5,30" fill="#c0c0c0"/>
</g>
<g shape-rendering="crispEdges">
<rect x="1419" y="32" width="2" height="1" fill="#000"/>
<rect x="1419" y="65" width="2" height="1" fill="#000"/>
<rect x="1419" y="98" width="2" height="1" fill="#000"/>
<rect x="1419" y="131" width="2" height="1" fill="#000"/>
<rect x="1419" y="164" width="2" height="1" fill="#000"/>
<rect x="1419" y="197" width="2" height="1" fill="#000"/>
<rect x="1419" y="230" width="2" height="1" fill="#000"/>
<rect x="1419" y="263" width="2" height="1" fill="#000"/>
<rect x="1419" y="296" width="2" height="1" fill="#000"/>
<rect x="1419" y="329" width="2" height="1" fill="#000"/>
<rect x="1419" y="362" width="2" height="1" fill="#000"/>
<rect x="1419" y="395" width="2" height="1" fill="#000"/>
<rect x="1419" y="428" width="2" height="1" fill="#000"/>
<rect x="1419" y="461" width="2" height="1" fill="#000"/>
<rect x="1419" y="494" width="2" height="1" fill="#000"/>
<rect x="1419" y="527" width="2" height="1" fill="#000"/>
<rect x="1419" y="560" width="2" height="1" fill="#000"/>
</g>
<text x="1424.30" y="36" font-size="10.2" fill="#000" textLength="32.99" lengthAdjust="spacingAndGlyphs">1.14605</text>
<text x="1424.30" y="69" font-size="10.2" fill="#000" textLength="32.99" lengthAdjust="spacingAndGlyphs">1.14375</text>
<text x="1424.30" y="102" font-size="10.2" fill="#000" textLength="32.99" lengthAdjust="spacingAndGlyphs">1.14145</text>
<text x="1424.30" y="135" font-size="10.2" fill="#000" textLength="32.99" lengthAdjust="spacingAndGlyphs">1.13915</text>
<text x="1424.30" y="168" font-size="10.2" fill="#000" textLength="32.99" lengthAdjust="spacingAndGlyphs">1.13685</text>
<text x="1424.30" y="201" font-size="10.2" fill="#000" textLength="32.99" lengthAdjust="spacingAndGlyphs">1.13455</text>
<text x="1424.30" y="234" font-size="10.2" fill="#000" textLength="32.99" lengthAdjust="spacingAndGlyphs">1.13225</text>
<text x="1424.30" y="267" font-size="10.2" fill="#000" textLength="32.99" lengthAdjust="spacingAndGlyphs">1.12995</text>
<text x="1424.30" y="300" font-size="10.2" fill="#000" textLength="32.99" lengthAdjust="spacingAndGlyphs">1.12765</text>
<text x="1424.30" y="333" font-size="10.2" fill="#000" textLength="32.99" lengthAdjust="spacingAndGlyphs">1.12535</text>
<text x="1424.30" y="366" font-size="10.2" fill="#000" textLength="32.99" lengthAdjust="spacingAndGlyphs">1.12305</text>
<text x="1424.30" y="399" font-size="10.2" fill="#000" textLength="32.99" lengthAdjust="spacingAndGlyphs">1.12075</text>
<text x="1424.30" y="432" font-size="10.2" fill="#000" textLength="32.98" lengthAdjust="spacingAndGlyphs">1.11845</text>
<text x="1424.30" y="465" font-size="10.2" fill="#000" textLength="32.98" lengthAdjust="spacingAndGlyphs">1.11615</text>
<text x="1424.30" y="498" font-size="10.2" fill="#000" textLength="32.98" lengthAdjust="spacingAndGlyphs">1.11385</text>
<text x="1424.30" y="531" font-size="10.2" fill="#000" textLength="32.98" lengthAdjust="spacingAndGlyphs">1.11155</text>
<text x="1424.30" y="564" font-size="10.2" fill="#000" textLength="32.99" lengthAdjust="spacingAndGlyphs">1.10925</text>
<rect x="1420" y="112" width="41" height="11" fill="#ff0000" shape-rendering="crispEdges"/>
<text x="1424.60" y="122" font-size="10.2" fill="#fff" textLength="32.19" lengthAdjust="spacingAndGlyphs">1.14009</text>
<rect x="1420" y="278" width="41" height="11" fill="#ff0000" shape-rendering="crispEdges"/>
<text x="1424.60" y="288" font-size="10.2" fill="#fff" textLength="32.19" lengthAdjust="spacingAndGlyphs">1.12851</text>
<rect x="1420" y="414" width="41" height="11" fill="#00ff00" shape-rendering="crispEdges"/>
<text x="1424.60" y="424" font-size="10.2" fill="#fff" textLength="32.18" lengthAdjust="spacingAndGlyphs">1.11901</text>
<rect x="1420" y="476" width="41" height="11" fill="#000000" shape-rendering="crispEdges"/>
<text x="1424.60" y="486" font-size="10.2" fill="#fff" textLength="32.18" lengthAdjust="spacingAndGlyphs">1.11478</text>
<rect x="1420" y="544" width="41" height="11" fill="#0000ff" shape-rendering="crispEdges"/>
<text x="1424.60" y="554" font-size="10.2" fill="#fff" textLength="32.18" lengthAdjust="spacingAndGlyphs">1.11000</text>
<polygon points="6,35.5 13.5,35.5 9.75,31" fill="#000"/>
<text x="18.50" y="36" font-size="10.2" fill="#000" textLength="65.47" lengthAdjust="spacingAndGlyphs">EURUSD-,Daily</text>
<text x="91.20" y="36" font-size="10.2" fill="#000" textLength="140.55" lengthAdjust="spacingAndGlyphs">1.11562 1.11585 1.11472 1.11478</text>
<g shape-rendering="crispEdges">
<rect x="4" y="42" width="223" height="68" fill="#fff"/>
<path d="M6.5,44.5 H57.5 V68.5 H114.5 V107.5 H6.5 Z" fill="url(#rg)" stroke="#b80000"/>
<path d="M117.5,68.5 H173.5 V44.5 H224.5 V107.5 H117.5 Z" fill="url(#rg)" stroke="#b80000"/>
<rect x="10" y="67" width="44" height="1" fill="#8a0000"/>
<rect x="10" y="68" width="44" height="1" fill="#f07070"/>
<rect x="177" y="67" width="44" height="1" fill="#8a0000"/>
<rect x="177" y="68" width="44" height="1" fill="#f07070"/>
<rect x="60.5" y="44.5" width="110" height="21" fill="#fff" stroke="#a4a8ae"/>
<rect x="62" y="46" width="19" height="18" fill="url(#bg)"/>
<rect x="81" y="45" width="1" height="20" fill="#a4a8ae"/>
<rect x="150" y="45" width="1" height="20" fill="#a4a8ae"/>
<rect x="152" y="46" width="18" height="18" fill="url(#bg)"/>
</g>
<polygon points="67.5,53 73.5,53 70.5,56.5" fill="#4a64c4"/>
<polygon points="157.5,56.5 163.5,56.5 160.5,53" fill="#4a64c4"/>
<text x="18.30" y="60" font-size="12" fill="#ffeaea" textLength="25.28" lengthAdjust="spacingAndGlyphs">SELL</text>
<text x="186.70" y="60" font-size="12" fill="#ffeaea" textLength="23.05" lengthAdjust="spacingAndGlyphs">BUY</text>
<text x="122.60" y="59" font-size="12" fill="#000" textLength="22.98" lengthAdjust="spacingAndGlyphs">1.00</text>
<text x="26.60" y="99" font-size="12" fill="#fff" font-weight="bold" textLength="22.94" lengthAdjust="spacingAndGlyphs">1.11</text>
<text x="53.00" y="99" font-size="34" fill="#fff" textLength="33.95" lengthAdjust="spacingAndGlyphs">47</text>
<text x="92.80" y="83" font-size="11" fill="#fff" font-weight="bold" textLength="7.39" lengthAdjust="spacingAndGlyphs">8</text>
<text x="136.60" y="99" font-size="12" fill="#fff" font-weight="bold" textLength="22.94" lengthAdjust="spacingAndGlyphs">1.11</text>
<text x="164.00" y="99" font-size="34" fill="#fff" textLength="33.95" lengthAdjust="spacingAndGlyphs">49</text>
<text x="204.00" y="83" font-size="11" fill="#fff" font-weight="bold" textLength="6.99" lengthAdjust="spacingAndGlyphs">6</text>
<g clip-path="url(#cmacd)" shape-rendering="crispEdges">
<rect x="3" y="620" width="1" height="38" fill="#c0c0c0"/>
<rect x="11" y="620" width="1" height="33" fill="#c0c0c0"/>
<rect x="19" y="620" width="1" height="28" fill="#c0c0c0"/>
<rect x="27" y="620" width="1" height="25" fill="#c0c0c0"/>
<rect x="35" y="620" width="1" height="23" fill="#c0c0c0"/>
<rect x="43" y="620" width="1" height="20" fill="#c0c0c0"/>
<rect x="51" y="620" width="1" height="15" fill="#c0c0c0"/>
<rect x="59" y="620" width="1" height="9" fill="#c0c0c0"/>
<rect x="67" y="620" width="1" height="5" fill="#c0c0c0"/>
<rect x="75" y="620" width="1" height="3" fill="#c0c0c0"/>
<rect x="83" y="620" width="1" height="2" fill="#c0c0c0"/>
<rect x="91" y="620" width="1" height="1" fill="#c0c0c0"/>
<rect x="99" y="620" width="1" height="2" fill="#c0c0c0"/>
<rect x="107" y="620" width="1" height="6" fill="#c0c0c0"/>
<rect x="115" y="620" width="1" height="9" fill="#c0c0c0"/>
<rect x="123" y="620" width="1" height="22" fill="#c0c0c0"/>
<rect x="131" y="620" width="1" height="28" fill="#c0c0c0"/>
<rect x="139" y="620" width="1" height="33" fill="#c0c0c0"/>
<rect x="147" y="620" width="1" height="34" fill="#c0c0c0"/>
<rect x="155" y="620" width="1" height="32" fill="#c0c0c0"/>
<rect x="163" y="620" width="1" height="26" fill="#c0c0c0"/>
<rect x="171" y="620" width="1" height="23" fill="#c0c0c0"/>
<rect x="179" y="620" width="1" height="19" fill="#c0c0c0"/>
<rect x="187" y="620" width="1" height="16" fill="#c0c0c0"/>
<rect x="195" y="620" width="1" height="12" fill="#c0c0c0"/>
<rect x="203" y="620" width="1" height="6" fill="#c0c0c0"/>
<rect x="211" y="615" width="1" height="5" fill="#c0c0c0"/>
<rect x="219" y="612" width="1" height="8" fill="#c0c0c0"/>
<rect x="227" y="616" width="1" height="4" fill="#c0c0c0"/>
<rect x="235" y="620" width="1" height="1" fill="#c0c0c0"/>
<rect x="243" y="620" width="1" height="1" fill="#c0c0c0"/>
<rect x="251" y="620" width="1" height="6" fill="#c0c0c0"/>
<rect x="259" y="620" width="1" height="12" fill="#c0c0c0"/>
<rect x="267" y="620" width="1" height="18" fill="#c0c0c0"/>
<rect x="275" y="620" width="1" height="25" fill="#c0c0c0"/>
<rect x="283" y="620" width="1" height="28" fill="#c0c0c0"/>
<rect x="291" y="620" width="1" height="33" fill="#c0c0c0"/>
<rect x="299" y="620" width="1" height="36" fill="#c0c0c0"/>
<rect x="307" y="620" width="1" height="34" fill="#c0c0c0"/>
<rect x="315" y="620" width="1" height="35" fill="#c0c0c0"/>
<rect x="323" y="620" width="1" height="35" fill="#c0c0c0"/>
<rect x="331" y="620" width="1" height="35" fill="#c0c0c0"/>
<rect x="339" y="620" width="1" height="31" fill="#c0c0c0"/>
<rect x="347" y="620" width="1" height="26" fill="#c0c0c0"/>
<rect x="355" y="620" width="1" height="21" fill="#c0c0c0"/>
<rect x="363" y="620" width="1" height="19" fill="#c0c0c0"/>
<rect x="371" y="620" width="1" height="13" fill="#c0c0c0"/>
<rect x="379" y="620" width="1" height="8" fill="#c0c0c0"/>
<rect x="387" y="620" width="1" height="4" fill="#c0c0c0"/>
<rect x="395" y="620" width="1" height="2" fill="#c0c0c0"/>
<rect x="403" y="620" width="1" height="1" fill="#c0c0c0"/>
<rect x="411" y="620" width="1" height="4" fill="#c0c0c0"/>
<rect x="419" y="620" width="1" height="6" fill="#c0c0c0"/>
<rect x="427" y="620" width="1" height="7" fill="#c0c0c0"/>
<rect x="435" y="620" width="1" height="10" fill="#c0c0c0"/>
<rect x="443" y="620" width="1" height="19" fill="#c0c0c0"/>
<rect x="451" y="620" width="1" height="28" fill="#c0c0c0"/>
<rect x="459" y="620" width="1" height="33" fill="#c0c0c0"/>
<rect x="467" y="620" width="1" height="36" fill="#c0c0c0"/>
<rect x="475" y="620" width="1" height="36" fill="#c0c0c0"/>
<rect x="483" y="620" width="1" height="32" fill="#c0c0c0"/>
<rect x="491" y="620" width="1" height="29" fill="#c0c0c0"/>
<rect x="499" y="620" width="1" height="30" fill="#c0c0c0"/>
<rect x="507" y="620" width="1" height="28" fill="#c0c0c0"/>
<rect x="515" y="620" width="1" height="28" fill="#c0c0c0"/>
<rect x="523" y="620" width="1" height="25" fill="#c0c0c0"/>
<rect x="531" y="620" width="1" height="24" fill="#c0c0c0"/>
<rect x="539" y="620" width="1" height="22" fill="#c0c0c0"/>
<rect x="547" y="620" width="1" height="18" fill="#c0c0c0"/>
<rect x="555" y="620" width="1" height="14" fill="#c0c0c0"/>
<rect x="563" y="620" width="1" height="10" fill="#c0c0c0"/>
<rect x="571" y="620" width="1" height="7" fill="#c0c0c0"/>
<rect x="579" y="620" width="1" height="7" fill="#c0c0c0"/>
<rect x="587" y="620" width="1" height="7" fill="#c0c0c0"/>
<rect x="595" y="620" width="1" height="10" fill="#c0c0c0"/>
<rect x="603" y="620" width="1" height="14" fill="#c0c0c0"/>
<rect x="611" y="620" width="1" height="16" fill="#c0c0c0"/>
<rect x="619" y="620" width="1" height="17" fill="#c0c0c0"/>
<rect x="627" y="620" width="1" height="18" fill="#c0c0c0"/>
<rect x="635" y="620" width="1" height="20" fill="#c0c0c0"/>
<rect x="643" y="620" width="1" height="18" fill="#c0c0c0"/>
<rect x="651" y="620" width="1" height="14" fill="#c0c0c0"/>
<rect x="659" y="620" width="1" height="11" fill="#c0c0c0"/>
<rect x="667" y="620" width="1" height="10" fill="#c0c0c0"/>
<rect x="675" y="620" width="1" height="11" fill="#c0c0c0"/>
<rect x="683" y="620" width="1" height="15" fill="#c0c0c0"/>
<rect x="691" y="620" width="1" height="18" fill="#c0c0c0"/>
<rect x="699" y="620" width="1" height="17" fill="#c0c0c0"/>
<rect x="707" y="620" width="1" height="15" fill="#c0c0c0"/>
<rect x="715" y="620" width="1" height="7" fill="#c0c0c0"/>
<rect x="723" y="620" width="1" height="1" fill="#c0c0c0"/>
<rect x="731" y="617" width="1" height="3" fill="#c0c0c0"/>
<rect x="739" y="610" width="1" height="10" fill="#c0c0c0"/>
<rect x="747" y="598" width="1" height="22" fill="#c0c0c0"/>
<rect x="755" y="591" width="1" height="29" fill="#c0c0c0"/>
<rect x="763" y="586" width="1" height="34" fill="#c0c0c0"/>
<rect x="771" y="582" width="1" height="38" fill="#c0c0c0"/>
<rect x="779" y="582" width="1" height="38" fill="#c0c0c0"/>
<rect x="787" y="584" width="1" height="36" fill="#c0c0c0"/>
<rect x="795" y="593" width="1" height="27" fill="#c0c0c0"/>
<rect x="803" y="599" width="1" height="21" fill="#c0c0c0"/>
<rect x="811" y="604" width="1" height="16" fill="#c0c0c0"/>
<rect x="819" y="610" width="1" height="10" fill="#c0c0c0"/>
<rect x="827" y="611" width="1" height="9" fill="#c0c0c0"/>
<rect x="835" y="607" width="1" height="13" fill="#c0c0c0"/>
<rect x="843" y="597" width="1" height="23" fill="#c0c0c0"/>
<rect x="851" y="587" width="1" height="33" fill="#c0c0c0"/>
<rect x="859" y="579" width="1" height="41" fill="#c0c0c0"/>
<rect x="867" y="576" width="1" height="44" fill="#c0c0c0"/>
<rect x="875" y="574" width="1" height="46" fill="#c0c0c0"/>
<rect x="883" y="572" width="1" height="48" fill="#c0c0c0"/>
<rect x="891" y="571" width="1" height="49" fill="#c0c0c0"/>
<rect x="899" y="573" width="1" height="47" fill="#c0c0c0"/>
<rect x="907" y="581" width="1" height="39" fill="#c0c0c0"/>
<rect x="915" y="588" width="1" height="32" fill="#c0c0c0"/>
<rect x="923" y="594" width="1" height="26" fill="#c0c0c0"/>
<rect x="931" y="600" width="1" height="20" fill="#c0c0c0"/>
<rect x="939" y="610" width="1" height="10" fill="#c0c0c0"/>
<rect x="947" y="618" width="1" height="2" fill="#c0c0c0"/>
<rect x="955" y="620" width="1" height="5" fill="#c0c0c0"/>
<rect x="963" y="620" width="1" height="11" fill="#c0c0c0"/>
<rect x="971" y="620" width="1" height="11" fill="#c0c0c0"/>
<rect x="979" y="620" width="1" height="12" fill="#c0c0c0"/>
<rect x="987" y="620" width="1" height="10" fill="#c0c0c0"/>
<rect x="995" y="620" width="1" height="9" fill="#c0c0c0"/>
<rect x="1003" y="620" width="1" height="9" fill="#c0c0c0"/>
<rect x="1011" y="620" width="1" height="13" fill="#c0c0c0"/>
<rect x="1019" y="620" width="1" height="15" fill="#c0c0c0"/>
<rect x="1027" y="620" width="1" height="13" fill="#c0c0c0"/>
<rect x="1035" y="620" width="1" height="15" fill="#c0c0c0"/>
<rect x="1043" y="620" width="1" height="17" fill="#c0c0c0"/>
<rect x="1051" y="620" width="1" height="19" fill="#c0c0c0"/>
<rect x="1059" y="620" width="1" height="26" fill="#c0c0c0"/>
<rect x="1067" y="620" width="1" height="32" fill="#c0c0c0"/>
<rect x="1075" y="620" width="1" height="36" fill="#c0c0c0"/>
<rect x="1083" y="620" width="1" height="40" fill="#c0c0c0"/>
<rect x="1091" y="620" width="1" height="43" fill="#c0c0c0"/>
<rect x="1099" y="620" width="1" height="43" fill="#c0c0c0"/>
<rect x="1107" y="620" width="1" height="42" fill="#c0c0c0"/>
<rect x="1115" y="620" width="1" height="41" fill="#c0c0c0"/>
</g>
<path d="M911,578h1v1h-1zM915,578h3v1h-3zM909,579h2v1h-2zM921,579h3v1h-3zM903,580h3v1h-3zM927,580h2v1h-2zM929,581h1v1h-1zM898,582h2v1h-2zM933,582h1v1h-1zM897,583h1v1h-1zM934,583h2v1h-2zM892,585h2v1h-2zM939,585h1v1h-1zM891,586h1v1h-1zM940,586h2v1h-2zM886,588h2v1h-2zM885,589h1v1h-1zM945,589h2v1h-2zM947,590h1v1h-1zM807,591h3v1h-3zM880,591h2v1h-2zM801,592h3v1h-3zM813,592h3v1h-3zM879,592h1v1h-1zM797,593h1v1h-1zM819,593h2v1h-2zM951,593h1v1h-1zM795,594h2v1h-2zM821,594h1v1h-1zM874,594h2v1h-2zM952,594h1v1h-1zM791,595h1v1h-1zM825,595h3v1h-3zM873,595h1v1h-1zM953,595h1v1h-1zM789,596h2v1h-2zM831,596h2v1h-2zM869,596h1v1h-1zM833,597h1v1h-1zM867,597h2v1h-2zM785,598h1v1h-1zM837,598h3v1h-3zM861,598h3v1h-3zM957,598h2v1h-2zM783,599h2v1h-2zM843,599h3v1h-3zM849,599h3v1h-3zM855,599h3v1h-3zM959,599h1v1h-1zM779,602h1v1h-1zM963,602h1v1h-1zM777,603h2v1h-2zM964,603h1v1h-1zM965,604h1v1h-1zM772,606h2v1h-2zM771,607h1v1h-1zM969,607h1v1h-1zM970,608h1v1h-1zM971,609h1v1h-1zM767,610h1v1h-1zM766,611h1v1h-1zM765,612h1v1h-1zM975,612h2v1h-2zM977,613h1v1h-1zM761,615h1v1h-1zM981,615h1v1h-1zM759,616h2v1h-2zM982,616h1v1h-1zM983,617h1v1h-1zM755,619h1v1h-1zM987,619h1v1h-1zM753,620h2v1h-2zM988,620h2v1h-2zM255,622h3v1h-3zM261,622h2v1h-2zM993,622h1v1h-1zM249,623h3v1h-3zM263,623h1v1h-1zM267,623h2v1h-2zM748,623h2v1h-2zM994,623h2v1h-2zM243,624h3v1h-3zM269,624h1v1h-1zM747,624h1v1h-1zM239,625h1v1h-1zM273,625h3v1h-3zM999,625h3v1h-3zM111,626h3v1h-3zM117,626h3v1h-3zM123,626h2v1h-2zM237,626h2v1h-2zM431,626h1v1h-1zM435,626h3v1h-3zM742,626h2v1h-2zM105,627h3v1h-3zM125,627h1v1h-1zM233,627h1v1h-1zM279,627h1v1h-1zM425,627h1v1h-1zM429,627h2v1h-2zM441,627h3v1h-3zM741,627h1v1h-1zM1005,627h2v1h-2zM101,628h1v1h-1zM129,628h1v1h-1zM231,628h2v1h-2zM280,628h2v1h-2zM423,628h2v1h-2zM447,628h2v1h-2zM737,628h1v1h-1zM1007,628h1v1h-1zM99,629h2v1h-2zM130,629h2v1h-2zM226,629h2v1h-2zM417,629h3v1h-3zM449,629h1v1h-1zM735,629h2v1h-2zM1011,629h2v1h-2zM93,630h3v1h-3zM225,630h1v1h-1zM285,630h1v1h-1zM413,630h1v1h-1zM453,630h2v1h-2zM729,630h3v1h-3zM1013,630h1v1h-1zM135,631h3v1h-3zM286,631h2v1h-2zM411,631h2v1h-2zM455,631h1v1h-1zM609,631h3v1h-3zM615,631h3v1h-3zM621,631h2v1h-2zM725,631h1v1h-1zM1017,631h3v1h-3zM1023,631h3v1h-3zM1029,631h2v1h-2zM87,632h3v1h-3zM220,632h2v1h-2zM407,632h1v1h-1zM459,632h1v1h-1zM599,632h1v1h-1zM603,632h3v1h-3zM623,632h1v1h-1zM627,632h3v1h-3zM719,632h1v1h-1zM723,632h2v1h-2zM1031,632h1v1h-1zM1035,632h3v1h-3zM1041,632h3v1h-3zM141,633h2v1h-2zM219,633h1v1h-1zM291,633h1v1h-1zM405,633h2v1h-2zM460,633h2v1h-2zM593,633h1v1h-1zM597,633h2v1h-2zM633,633h3v1h-3zM711,633h3v1h-3zM717,633h2v1h-2zM1047,633h3v1h-3zM82,634h2v1h-2zM143,634h1v1h-1zM292,634h2v1h-2zM591,634h2v1h-2zM639,634h3v1h-3zM645,634h2v1h-2zM705,634h3v1h-3zM1053,634h3v1h-3zM81,635h1v1h-1zM147,635h2v1h-2zM215,635h1v1h-1zM400,635h2v1h-2zM465,635h1v1h-1zM585,635h3v1h-3zM647,635h1v1h-1zM651,635h3v1h-3zM657,635h3v1h-3zM663,635h3v1h-3zM669,635h3v1h-3zM675,635h3v1h-3zM681,635h3v1h-3zM687,635h3v1h-3zM693,635h3v1h-3zM699,635h3v1h-3zM1059,635h2v1h-2zM149,636h1v1h-1zM214,636h1v1h-1zM399,636h1v1h-1zM466,636h2v1h-2zM581,636h1v1h-1zM1061,636h1v1h-1zM76,637h2v1h-2zM153,637h1v1h-1zM213,637h1v1h-1zM297,637h2v1h-2zM579,637h2v1h-2zM1065,637h1v1h-1zM75,638h1v1h-1zM154,638h2v1h-2zM299,638h1v1h-1zM394,638h2v1h-2zM471,638h1v1h-1zM573,638h3v1h-3zM1066,638h2v1h-2zM208,639h2v1h-2zM393,639h1v1h-1zM472,639h2v1h-2zM70,640h2v1h-2zM159,640h3v1h-3zM207,640h1v1h-1zM303,640h1v1h-1zM389,640h1v1h-1zM567,640h3v1h-3zM1071,640h3v1h-3zM69,641h1v1h-1zM304,641h2v1h-2zM387,641h2v1h-2zM477,641h2v1h-2zM165,642h2v1h-2zM202,642h2v1h-2zM479,642h1v1h-1zM561,642h3v1h-3zM1077,642h2v1h-2zM63,643h3v1h-3zM167,643h1v1h-1zM201,643h1v1h-1zM309,643h2v1h-2zM382,643h2v1h-2zM483,643h2v1h-2zM557,643h1v1h-1zM1079,643h1v1h-1zM171,644h3v1h-3zM197,644h1v1h-1zM311,644h1v1h-1zM381,644h1v1h-1zM485,644h1v1h-1zM555,644h2v1h-2zM1083,644h2v1h-2zM58,645h2v1h-2zM177,645h3v1h-3zM191,645h1v1h-1zM195,645h2v1h-2zM315,645h2v1h-2zM489,645h1v1h-1zM549,645h3v1h-3zM1085,645h1v1h-1zM57,646h1v1h-1zM183,646h3v1h-3zM189,646h2v1h-2zM317,646h1v1h-1zM375,646h3v1h-3zM490,646h2v1h-2zM545,646h1v1h-1zM1089,646h1v1h-1zM321,647h1v1h-1zM495,647h2v1h-2zM543,647h2v1h-2zM1090,647h2v1h-2zM52,648h2v1h-2zM322,648h2v1h-2zM369,648h3v1h-3zM497,648h1v1h-1zM537,648h3v1h-3zM51,649h1v1h-1zM365,649h1v1h-1zM501,649h3v1h-3zM533,649h1v1h-1zM1095,649h3v1h-3zM3,650h2v1h-2zM47,650h1v1h-1zM327,650h3v1h-3zM363,650h2v1h-2zM507,650h3v1h-3zM527,650h1v1h-1zM531,650h2v1h-2zM5,651h1v1h-1zM45,651h2v1h-2zM333,651h2v1h-2zM357,651h3v1h-3zM513,651h3v1h-3zM519,651h3v1h-3zM525,651h2v1h-2zM1101,651h2v1h-2zM9,652h1v1h-1zM39,652h3v1h-3zM335,652h1v1h-1zM339,652h3v1h-3zM351,652h3v1h-3zM1103,652h1v1h-1zM10,653h2v1h-2zM33,653h3v1h-3zM345,653h3v1h-3zM1107,653h2v1h-2zM15,654h3v1h-3zM21,654h3v1h-3zM27,654h3v1h-3zM1109,654h1v1h-1zM1113,655h1v1h-1zM1114,656h2v1h-2z" fill="#ff0000" shape-rendering="crispEdges"/>
<text x="7.40" y="579" font-size="10.2" fill="#000" textLength="153.01" lengthAdjust="spacingAndGlyphs">MACD(12,26,9) -0.003453 -0.003021</text>
<g shape-rendering="crispEdges">
<rect x="1419" y="567" width="1" height="1" fill="#000"/>
<rect x="1419" y="620" width="1" height="1" fill="#000"/>
<rect x="1419" y="667" width="1" height="1" fill="#000"/>
</g>
<text x="1422.10" y="577" font-size="10.2" fill="#000" textLength="37.13" lengthAdjust="spacingAndGlyphs">0.004481</text>
<text x="1422.00" y="624" font-size="10.2" fill="#000" textLength="17.38" lengthAdjust="spacingAndGlyphs">0.00</text>
<text x="1422.00" y="665" font-size="10.2" fill="#000" textLength="43.05" lengthAdjust="spacingAndGlyphs">-0.004048</text>
<g shape-rendering="crispEdges">
<line x1="4" y1="710.5" x2="1418" y2="710.5" stroke="#c0c0c0" stroke-dasharray="3,3"/>
<line x1="4" y1="761.5" x2="1418" y2="761.5" stroke="#c0c0c0" stroke-dasharray="3,3"/>
<rect x="1419" y="672" width="1" height="1" fill="#000"/>
<rect x="1419" y="799" width="1" height="1" fill="#000"/>
</g>
<path d="M747,712h1v1h-1zM746,713h1v1h-1zM748,713h2v1h-2zM857,713h3v1h-3zM745,714h1v1h-1zM750,714h1v1h-1zM853,714h4v1h-4zM860,714h1v1h-1zM744,715h1v1h-1zM751,715h2v1h-2zM769,715h3v1h-3zM849,715h4v1h-4zM861,715h1v1h-1zM743,716h1v1h-1zM753,716h2v1h-2zM765,716h4v1h-4zM772,716h1v1h-1zM845,716h4v1h-4zM862,716h1v1h-1zM742,717h1v1h-1zM755,717h10v1h-10zM773,717h1v1h-1zM843,717h2v1h-2zM863,717h2v1h-2zM211,718h1v1h-1zM741,718h1v1h-1zM773,718h1v1h-1zM842,718h1v1h-1zM865,718h1v1h-1zM210,719h1v1h-1zM212,719h1v1h-1zM740,719h1v1h-1zM774,719h1v1h-1zM841,719h1v1h-1zM866,719h1v1h-1zM871,719h8v1h-8zM887,719h5v1h-5zM210,720h1v1h-1zM212,720h1v1h-1zM739,720h1v1h-1zM775,720h1v1h-1zM840,720h1v1h-1zM867,720h4v1h-4zM879,720h8v1h-8zM892,720h2v1h-2zM209,721h1v1h-1zM213,721h1v1h-1zM738,721h1v1h-1zM776,721h1v1h-1zM839,721h1v1h-1zM894,721h2v1h-2zM208,722h1v1h-1zM214,722h1v1h-1zM719,722h5v1h-5zM737,722h1v1h-1zM777,722h1v1h-1zM839,722h1v1h-1zM896,722h2v1h-2zM208,723h1v1h-1zM215,723h1v1h-1zM715,723h4v1h-4zM724,723h1v1h-1zM736,723h1v1h-1zM777,723h1v1h-1zM838,723h1v1h-1zM898,723h2v1h-2zM207,724h1v1h-1zM215,724h1v1h-1zM715,724h1v1h-1zM725,724h2v1h-2zM735,724h1v1h-1zM778,724h1v1h-1zM837,724h1v1h-1zM900,724h1v1h-1zM206,725h1v1h-1zM216,725h1v1h-1zM714,725h1v1h-1zM727,725h1v1h-1zM734,725h1v1h-1zM779,725h2v1h-2zM836,725h1v1h-1zM900,725h1v1h-1zM206,726h1v1h-1zM217,726h1v1h-1zM714,726h1v1h-1zM728,726h1v1h-1zM733,726h1v1h-1zM781,726h2v1h-2zM835,726h1v1h-1zM901,726h1v1h-1zM59,727h1v1h-1zM205,727h1v1h-1zM218,727h1v1h-1zM713,727h1v1h-1zM729,727h2v1h-2zM732,727h1v1h-1zM783,727h3v1h-3zM834,727h1v1h-1zM901,727h1v1h-1zM57,728h2v1h-2zM60,728h2v1h-2zM204,728h1v1h-1zM218,728h1v1h-1zM713,728h1v1h-1zM731,728h1v1h-1zM786,728h2v1h-2zM833,728h1v1h-1zM902,728h1v1h-1zM56,729h1v1h-1zM62,729h2v1h-2zM204,729h1v1h-1zM219,729h1v1h-1zM375,729h13v1h-13zM712,729h1v1h-1zM788,729h1v1h-1zM832,729h1v1h-1zM902,729h1v1h-1zM55,730h1v1h-1zM64,730h2v1h-2zM202,730h2v1h-2zM220,730h1v1h-1zM371,730h4v1h-4zM388,730h2v1h-2zM712,730h1v1h-1zM788,730h1v1h-1zM831,730h1v1h-1zM903,730h1v1h-1zM53,731h2v1h-2zM66,731h3v1h-3zM199,731h3v1h-3zM220,731h1v1h-1zM370,731h1v1h-1zM390,731h1v1h-1zM402,731h2v1h-2zM711,731h1v1h-1zM789,731h1v1h-1zM831,731h1v1h-1zM903,731h1v1h-1zM52,732h1v1h-1zM69,732h4v1h-4zM90,732h2v1h-2zM197,732h2v1h-2zM221,732h1v1h-1zM369,732h1v1h-1zM391,732h2v1h-2zM399,732h3v1h-3zM404,732h1v1h-1zM554,732h13v1h-13zM711,732h1v1h-1zM789,732h1v1h-1zM830,732h1v1h-1zM904,732h1v1h-1zM51,733h1v1h-1zM73,733h4v1h-4zM88,733h2v1h-2zM92,733h1v1h-1zM194,733h3v1h-3zM222,733h1v1h-1zM368,733h1v1h-1zM393,733h2v1h-2zM397,733h2v1h-2zM404,733h1v1h-1zM551,733h3v1h-3zM567,733h5v1h-5zM651,733h9v1h-9zM710,733h1v1h-1zM790,733h1v1h-1zM829,733h1v1h-1zM904,733h1v1h-1zM49,734h2v1h-2zM77,734h2v1h-2zM86,734h2v1h-2zM93,734h1v1h-1zM163,734h1v1h-1zM191,734h3v1h-3zM222,734h1v1h-1zM354,734h2v1h-2zM367,734h1v1h-1zM395,734h2v1h-2zM405,734h1v1h-1zM549,734h2v1h-2zM572,734h1v1h-1zM650,734h1v1h-1zM660,734h2v1h-2zM710,734h1v1h-1zM790,734h1v1h-1zM828,734h1v1h-1zM905,734h1v1h-1zM48,735h1v1h-1zM79,735h3v1h-3zM84,735h2v1h-2zM94,735h1v1h-1zM162,735h1v1h-1zM164,735h2v1h-2zM189,735h2v1h-2zM223,735h1v1h-1zM351,735h3v1h-3zM356,735h2v1h-2zM366,735h1v1h-1zM405,735h1v1h-1zM547,735h2v1h-2zM573,735h1v1h-1zM649,735h1v1h-1zM662,735h1v1h-1zM709,735h1v1h-1zM791,735h1v1h-1zM827,735h1v1h-1zM905,735h1v1h-1zM47,736h1v1h-1zM82,736h2v1h-2zM95,736h1v1h-1zM161,736h1v1h-1zM166,736h2v1h-2zM177,736h12v1h-12zM224,736h1v1h-1zM349,736h2v1h-2zM358,736h2v1h-2zM365,736h1v1h-1zM406,736h1v1h-1zM545,736h2v1h-2zM574,736h1v1h-1zM647,736h2v1h-2zM663,736h2v1h-2zM709,736h1v1h-1zM792,736h1v1h-1zM826,736h1v1h-1zM906,736h1v1h-1zM987,736h10v1h-10zM45,737h2v1h-2zM95,737h1v1h-1zM160,737h1v1h-1zM168,737h2v1h-2zM173,737h4v1h-4zM224,737h1v1h-1zM345,737h4v1h-4zM360,737h2v1h-2zM364,737h1v1h-1zM406,737h1v1h-1zM543,737h2v1h-2zM575,737h2v1h-2zM646,737h1v1h-1zM665,737h2v1h-2zM708,737h1v1h-1zM792,737h1v1h-1zM825,737h1v1h-1zM906,737h1v1h-1zM911,737h8v1h-8zM985,737h2v1h-2zM997,737h2v1h-2zM1027,737h1v1h-1zM15,738h8v1h-8zM44,738h1v1h-1zM96,738h1v1h-1zM159,738h1v1h-1zM170,738h3v1h-3zM225,738h1v1h-1zM242,738h2v1h-2zM341,738h4v1h-4zM362,738h2v1h-2zM407,738h1v1h-1zM542,738h1v1h-1zM577,738h1v1h-1zM645,738h1v1h-1zM667,738h1v1h-1zM708,738h1v1h-1zM793,738h1v1h-1zM809,738h3v1h-3zM824,738h1v1h-1zM907,738h4v1h-4zM919,738h13v1h-13zM983,738h2v1h-2zM999,738h3v1h-3zM1026,738h1v1h-1zM1028,738h1v1h-1zM11,739h4v1h-4zM23,739h8v1h-8zM39,739h5v1h-5zM97,739h1v1h-1zM158,739h1v1h-1zM226,739h1v1h-1zM239,739h3v1h-3zM244,739h1v1h-1zM339,739h2v1h-2zM407,739h1v1h-1zM426,739h2v1h-2zM483,739h2v1h-2zM540,739h2v1h-2zM578,739h1v1h-1zM583,739h5v1h-5zM644,739h1v1h-1zM668,739h1v1h-1zM699,739h9v1h-9zM793,739h1v1h-1zM805,739h4v1h-4zM812,739h2v1h-2zM823,739h1v1h-1zM932,739h1v1h-1zM971,739h2v1h-2zM982,739h1v1h-1zM1002,739h2v1h-2zM1025,739h1v1h-1zM1029,739h1v1h-1zM9,740h2v1h-2zM31,740h8v1h-8zM98,740h1v1h-1zM157,740h1v1h-1zM226,740h1v1h-1zM237,740h2v1h-2zM245,740h2v1h-2zM338,740h1v1h-1zM408,740h1v1h-1zM423,740h3v1h-3zM428,740h1v1h-1zM482,740h1v1h-1zM485,740h2v1h-2zM522,740h3v1h-3zM537,740h3v1h-3zM579,740h4v1h-4zM588,740h1v1h-1zM643,740h1v1h-1zM669,740h2v1h-2zM698,740h1v1h-1zM794,740h1v1h-1zM801,740h4v1h-4zM814,740h1v1h-1zM822,740h1v1h-1zM932,740h1v1h-1zM970,740h1v1h-1zM973,740h4v1h-4zM980,740h2v1h-2zM1004,740h1v1h-1zM1023,740h2v1h-2zM1030,740h1v1h-1zM8,741h1v1h-1zM99,741h1v1h-1zM156,741h1v1h-1zM227,741h10v1h-10zM247,741h1v1h-1zM337,741h1v1h-1zM408,741h1v1h-1zM421,741h2v1h-2zM429,741h2v1h-2zM481,741h1v1h-1zM487,741h3v1h-3zM519,741h3v1h-3zM525,741h4v1h-4zM533,741h4v1h-4zM589,741h1v1h-1zM642,741h1v1h-1zM671,741h1v1h-1zM698,741h1v1h-1zM794,741h1v1h-1zM797,741h4v1h-4zM815,741h2v1h-2zM821,741h1v1h-1zM933,741h1v1h-1zM970,741h1v1h-1zM977,741h3v1h-3zM1005,741h1v1h-1zM1022,741h1v1h-1zM1031,741h2v1h-2zM7,742h1v1h-1zM100,742h1v1h-1zM155,742h1v1h-1zM248,742h1v1h-1zM336,742h1v1h-1zM409,742h1v1h-1zM418,742h3v1h-3zM431,742h1v1h-1zM479,742h2v1h-2zM490,742h2v1h-2zM507,742h4v1h-4zM517,742h2v1h-2zM529,742h4v1h-4zM590,742h1v1h-1zM641,742h1v1h-1zM672,742h1v1h-1zM697,742h1v1h-1zM795,742h2v1h-2zM817,742h2v1h-2zM820,742h1v1h-1zM934,742h1v1h-1zM969,742h1v1h-1zM1006,742h1v1h-1zM1021,742h1v1h-1zM1033,742h1v1h-1zM5,743h2v1h-2zM101,743h2v1h-2zM153,743h2v1h-2zM249,743h2v1h-2zM307,743h1v1h-1zM335,743h1v1h-1zM409,743h1v1h-1zM416,743h2v1h-2zM432,743h1v1h-1zM478,743h1v1h-1zM492,743h2v1h-2zM505,743h2v1h-2zM511,743h6v1h-6zM591,743h1v1h-1zM641,743h1v1h-1zM673,743h2v1h-2zM697,743h1v1h-1zM819,743h1v1h-1zM935,743h1v1h-1zM969,743h1v1h-1zM1007,743h1v1h-1zM1020,743h1v1h-1zM1034,743h1v1h-1zM4,744h1v1h-1zM103,744h1v1h-1zM151,744h2v1h-2zM251,744h2v1h-2zM306,744h1v1h-1zM308,744h2v1h-2zM334,744h1v1h-1zM410,744h1v1h-1zM414,744h2v1h-2zM433,744h2v1h-2zM477,744h1v1h-1zM494,744h1v1h-1zM503,744h2v1h-2zM592,744h1v1h-1zM640,744h1v1h-1zM675,744h1v1h-1zM696,744h1v1h-1zM935,744h1v1h-1zM968,744h1v1h-1zM1007,744h1v1h-1zM1018,744h2v1h-2zM1035,744h4v1h-4zM3,745h1v1h-1zM104,745h1v1h-1zM113,745h3v1h-3zM150,745h1v1h-1zM253,745h2v1h-2zM305,745h1v1h-1zM310,745h2v1h-2zM333,745h1v1h-1zM410,745h1v1h-1zM412,745h2v1h-2zM435,745h1v1h-1zM476,745h1v1h-1zM495,745h2v1h-2zM502,745h1v1h-1zM593,745h1v1h-1zM639,745h1v1h-1zM676,745h1v1h-1zM696,745h1v1h-1zM936,745h1v1h-1zM967,745h1v1h-1zM1008,745h1v1h-1zM1016,745h2v1h-2zM1039,745h6v1h-6zM105,746h2v1h-2zM109,746h4v1h-4zM115,746h1v1h-1zM148,746h2v1h-2zM255,746h3v1h-3zM304,746h1v1h-1zM312,746h2v1h-2zM332,746h1v1h-1zM411,746h1v1h-1zM436,746h1v1h-1zM475,746h1v1h-1zM497,746h2v1h-2zM500,746h2v1h-2zM594,746h1v1h-1zM638,746h1v1h-1zM677,746h1v1h-1zM695,746h1v1h-1zM937,746h1v1h-1zM967,746h1v1h-1zM1009,746h1v1h-1zM1014,746h2v1h-2zM1045,746h4v1h-4zM107,747h2v1h-2zM116,747h1v1h-1zM147,747h1v1h-1zM258,747h3v1h-3zM303,747h1v1h-1zM314,747h18v1h-18zM436,747h1v1h-1zM474,747h1v1h-1zM499,747h1v1h-1zM595,747h2v1h-2zM615,747h14v1h-14zM637,747h1v1h-1zM678,747h1v1h-1zM694,747h1v1h-1zM938,747h1v1h-1zM966,747h1v1h-1zM1010,747h1v1h-1zM1012,747h2v1h-2zM1049,747h3v1h-3zM116,748h1v1h-1zM145,748h2v1h-2zM261,748h4v1h-4zM303,748h1v1h-1zM437,748h1v1h-1zM473,748h1v1h-1zM597,748h4v1h-4zM607,748h8v1h-8zM629,748h2v1h-2zM637,748h1v1h-1zM679,748h1v1h-1zM694,748h1v1h-1zM938,748h1v1h-1zM943,748h6v1h-6zM965,748h1v1h-1zM1011,748h1v1h-1zM1052,748h1v1h-1zM117,749h1v1h-1zM144,749h1v1h-1zM265,749h4v1h-4zM302,749h1v1h-1zM438,749h1v1h-1zM472,749h1v1h-1zM601,749h6v1h-6zM631,749h3v1h-3zM636,749h1v1h-1zM680,749h1v1h-1zM693,749h1v1h-1zM939,749h4v1h-4zM949,749h4v1h-4zM965,749h1v1h-1zM1053,749h1v1h-1zM1106,749h5v1h-5zM117,750h1v1h-1zM143,750h1v1h-1zM269,750h4v1h-4zM279,750h6v1h-6zM301,750h1v1h-1zM439,750h1v1h-1zM471,750h1v1h-1zM634,750h2v1h-2zM681,750h1v1h-1zM693,750h1v1h-1zM953,750h4v1h-4zM964,750h1v1h-1zM1054,750h1v1h-1zM1104,750h2v1h-2zM1111,750h5v1h-5zM118,751h1v1h-1zM141,751h2v1h-2zM273,751h6v1h-6zM285,751h4v1h-4zM300,751h1v1h-1zM439,751h1v1h-1zM470,751h1v1h-1zM682,751h1v1h-1zM692,751h1v1h-1zM957,751h4v1h-4zM964,751h1v1h-1zM1055,751h1v1h-1zM1102,751h2v1h-2zM118,752h1v1h-1zM131,752h4v1h-4zM140,752h1v1h-1zM289,752h11v1h-11zM440,752h1v1h-1zM469,752h1v1h-1zM683,752h4v1h-4zM692,752h1v1h-1zM961,752h3v1h-3zM1056,752h1v1h-1zM1100,752h2v1h-2zM119,753h1v1h-1zM130,753h1v1h-1zM135,753h5v1h-5zM441,753h1v1h-1zM459,753h4v1h-4zM468,753h1v1h-1zM687,753h5v1h-5zM1057,753h1v1h-1zM1098,753h2v1h-2zM119,754h1v1h-1zM129,754h1v1h-1zM442,754h1v1h-1zM457,754h2v1h-2zM463,754h5v1h-5zM1058,754h1v1h-1zM1096,754h2v1h-2zM120,755h1v1h-1zM129,755h1v1h-1zM442,755h1v1h-1zM455,755h2v1h-2zM1059,755h4v1h-4zM1071,755h6v1h-6zM1094,755h2v1h-2zM120,756h1v1h-1zM128,756h1v1h-1zM443,756h2v1h-2zM454,756h1v1h-1zM1063,756h8v1h-8zM1077,756h2v1h-2zM1092,756h2v1h-2zM121,757h1v1h-1zM127,757h1v1h-1zM445,757h4v1h-4zM452,757h2v1h-2zM1079,757h3v1h-3zM1087,757h5v1h-5zM121,758h1v1h-1zM126,758h1v1h-1zM449,758h3v1h-3zM1082,758h5v1h-5zM122,759h1v1h-1zM125,759h1v1h-1zM122,760h1v1h-1zM125,760h1v1h-1zM123,761h2v1h-2zM123,762h1v1h-1z" fill="#1e90ff" shape-rendering="crispEdges"/>
<text x="7.00" y="683" font-size="10.2" fill="#000" textLength="67.47" lengthAdjust="spacingAndGlyphs">RSI(14) 38.4531</text>
<text x="1422.30" y="681" font-size="10.2" fill="#000" textLength="14.51" lengthAdjust="spacingAndGlyphs">100</text>
<text x="1421.20" y="714" font-size="10.2" fill="#000" textLength="9.37" lengthAdjust="spacingAndGlyphs">70</text>
<text x="1421.60" y="765" font-size="10.2" fill="#000" textLength="9.37" lengthAdjust="spacingAndGlyphs">30</text>
<text x="1422.30" y="797" font-size="10.2" fill="#000" textLength="5.04" lengthAdjust="spacingAndGlyphs">0</text>
<g shape-rendering="crispEdges">
<rect x="3" y="801" width="1" height="3" fill="#000"/>
<rect x="67" y="801" width="1" height="3" fill="#000"/>
<rect x="131" y="801" width="1" height="3" fill="#000"/>
<rect x="195" y="801" width="1" height="3" fill="#000"/>
<rect x="259" y="801" width="1" height="3" fill="#000"/>
<rect x="323" y="801" width="1" height="3" fill="#000"/>
<rect x="387" y="801" width="1" height="3" fill="#000"/>
<rect x="451" y="801" width="1" height="3" fill="#000"/>
<rect x="515" y="801" width="1" height="3" fill="#000"/>
<rect x="579" y="801" width="1" height="3" fill="#000"/>
<rect x="643" y="801" width="1" height="3" fill="#000"/>
<rect x="707" y="801" width="1" height="3" fill="#000"/>
<rect x="771" y="801" width="1" height="3" fill="#000"/>
<rect x="835" y="801" width="1" height="3" fill="#000"/>
<rect x="899" y="801" width="1" height="3" fill="#000"/>
<rect x="963" y="801" width="1" height="3" fill="#000"/>
<rect x="1027" y="801" width="1" height="3" fill="#000"/>
<rect x="1091" y="801" width="1" height="3" fill="#000"/>
</g>
<text x="2.90" y="813" font-size="10.2" fill="#000" textLength="51.22" lengthAdjust="spacingAndGlyphs">18 Feb 2019</text>
<text x="66.90" y="813" font-size="10.2" fill="#000" textLength="51.72" lengthAdjust="spacingAndGlyphs">27 Feb 2019</text>
<text x="130.90" y="813" font-size="10.2" fill="#000" textLength="46.77" lengthAdjust="spacingAndGlyphs">8 Mar 2019</text>
<text x="194.90" y="813" font-size="10.2" fill="#000" textLength="52.01" lengthAdjust="spacingAndGlyphs">18 Mar 2019</text>
<text x="258.90" y="813" font-size="10.2" fill="#000" textLength="52.01" lengthAdjust="spacingAndGlyphs">27 Mar 2019</text>
<text x="322.90" y="813" font-size="10.2" fill="#000" textLength="44.96" lengthAdjust="spacingAndGlyphs">5 Apr 2019</text>
<text x="386.90" y="813" font-size="10.2" fill="#000" textLength="50.01" lengthAdjust="spacingAndGlyphs">15 Apr 2019</text>
<text x="450.90" y="813" font-size="10.2" fill="#000" textLength="50.01" lengthAdjust="spacingAndGlyphs">25 Apr 2019</text>
<text x="514.90" y="813" font-size="10.2" fill="#000" textLength="49.04" lengthAdjust="spacingAndGlyphs">5 May 2019</text>
<text x="578.90" y="813" font-size="10.2" fill="#000" textLength="55.37" lengthAdjust="spacingAndGlyphs">14 May 2019</text>
<text x="642.90" y="813" font-size="10.2" fill="#000" textLength="54.47" lengthAdjust="spacingAndGlyphs">23 May 2019</text>
<text x="706.90" y="813" font-size="10.2" fill="#000" textLength="44.27" lengthAdjust="spacingAndGlyphs">2 Jun 2019</text>
<text x="770.90" y="813" font-size="10.2" fill="#000" textLength="49.21" lengthAdjust="spacingAndGlyphs">11 Jun 2019</text>
<text x="834.90" y="813" font-size="10.2" fill="#000" textLength="49.32" lengthAdjust="spacingAndGlyphs">20 Jun 2019</text>
<text x="898.90" y="813" font-size="10.2" fill="#000" textLength="49.32" lengthAdjust="spacingAndGlyphs">30 Jun 2019</text>
<text x="962.90" y="813" font-size="10.2" fill="#000" textLength="41.75" lengthAdjust="spacingAndGlyphs">9 Jul 2019</text>
<text x="1026.90" y="813" font-size="10.2" fill="#000" textLength="45.49" lengthAdjust="spacingAndGlyphs">18 Jul 2019</text>
<text x="1090.90" y="813" font-size="10.2" fill="#000" textLength="46.79" lengthAdjust="spacingAndGlyphs">28 Jul 2019</text>
<g shape-rendering="crispEdges">
<rect x="0" y="821" width="1463" height="1" fill="#e3e3e3"/>
<rect x="0" y="823" width="1463" height="1" fill="#000"/>
<rect x="0" y="824" width="1463" height="19" fill="#f0f0f0"/>
<rect x="0" y="843" width="1463" height="4" fill="#fff"/>
<rect x="0" y="847" width="1463" height="1" fill="#a0a0a0"/>
<rect x="4" y="823" width="108" height="20" fill="#000"/>
<rect x="5" y="822" width="106" height="19" fill="#fff"/>
<rect x="220" y="826" width="1" height="13" fill="#808080"/>
<rect x="328" y="826" width="1" height="13" fill="#808080"/>
<rect x="437" y="826" width="1" height="13" fill="#808080"/>
<rect x="547" y="826" width="1" height="13" fill="#808080"/>
<rect x="669" y="826" width="1" height="13" fill="#808080"/>
<rect x="793" y="826" width="1" height="13" fill="#808080"/>
<rect x="889" y="826" width="1" height="13" fill="#808080"/>
<rect x="968" y="826" width="1" height="13" fill="#808080"/>
<rect x="1073" y="826" width="1" height="13" fill="#808080"/>
</g>
<text x="15.30" y="838" font-size="12" fill="#000" textLength="84.25" lengthAdjust="spacingAndGlyphs">EURUSD-,Daily</text>
<text x="122.00" y="838" font-size="12" fill="#6d6d6d" textLength="86.05" lengthAdjust="spacingAndGlyphs">AUDUSD-,Daily</text>
<text x="232.50" y="838" font-size="12" fill="#6d6d6d" textLength="83.10" lengthAdjust="spacingAndGlyphs">USDCHF-,Daily</text>
<text x="339.60" y="838" font-size="12" fill="#6d6d6d" textLength="84.95" lengthAdjust="spacingAndGlyphs">USDCAD-,Daily</text>
<text x="448.30" y="838" font-size="12" fill="#6d6d6d" textLength="87.36" lengthAdjust="spacingAndGlyphs">USDCNH-,Daily</text>
<text x="559.00" y="838" font-size="12" fill="#6d6d6d" textLength="96.75" lengthAdjust="spacingAndGlyphs">EURCHF-,Weekly</text>
<text x="680.40" y="838" font-size="12" fill="#6d6d6d" textLength="100.06" lengthAdjust="spacingAndGlyphs">XAUUSD-,Weekly</text>
<text x="803.50" y="838" font-size="12" fill="#6d6d6d" textLength="72.47" lengthAdjust="spacingAndGlyphs">GBPUSD-,H1</text>
<text x="899.50" y="838" font-size="12" fill="#6d6d6d" textLength="56.51" lengthAdjust="spacingAndGlyphs">UKOil-,H1</text>
<text x="978.60" y="838" font-size="12" fill="#6d6d6d" textLength="82.94" lengthAdjust="spacingAndGlyphs">USDX-,Weekly</text>
<polygon points="1437,829 1437,835 1434,832" fill="#909090"/>
<polygon points="1453,829 1453,835 1456,832" fill="#909090"/>
</svg></body></html>
